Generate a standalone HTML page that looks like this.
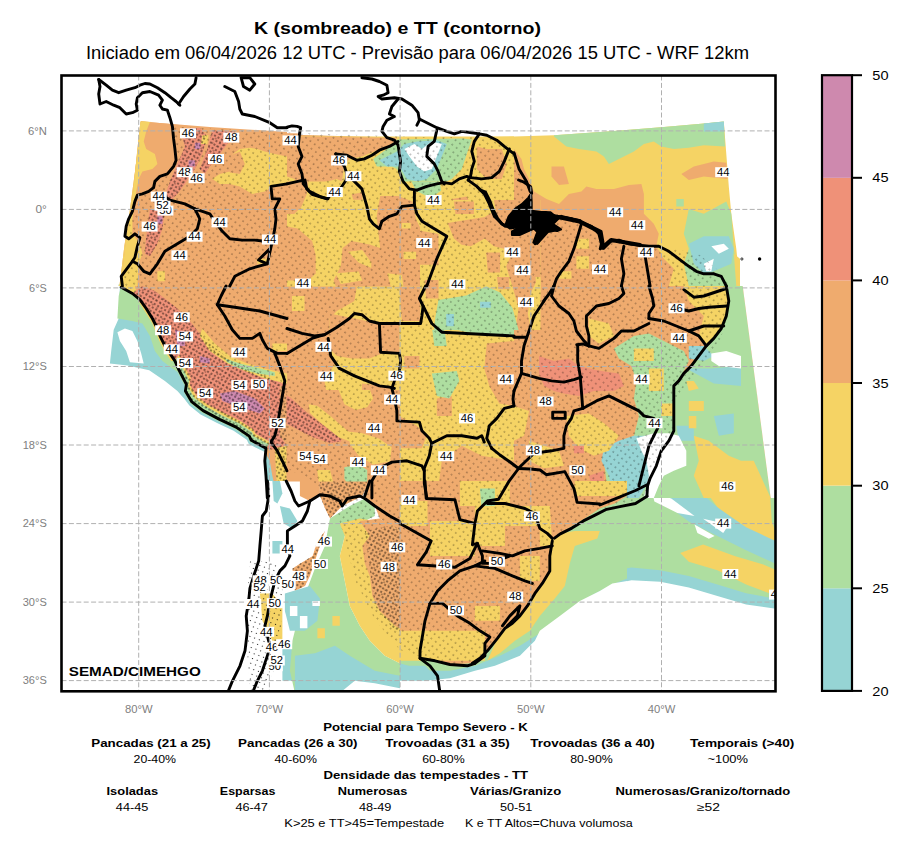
<!DOCTYPE html>
<html><head><meta charset="utf-8"><style>html,body{margin:0;padding:0;background:#fff;}svg{display:block;}</style></head>
<body><svg width="909" height="849" viewBox="0 0 909 849" font-family='"Liberation Sans", sans-serif'>
<rect width="909" height="849" fill="#fff"/>
<text x="397.5" y="34" text-anchor="middle" font-size="17.3" font-weight="bold" textLength="287" lengthAdjust="spacingAndGlyphs">K (sombreado) e TT (contorno)</text>
<text x="86" y="59" font-size="18" textLength="663" lengthAdjust="spacingAndGlyphs">Iniciado em 06/04/2026 12 UTC - Previsão para 06/04/2026 15 UTC - WRF 12km</text>
<svg x="61.5" y="75.5" width="714.0" height="615.8" viewBox="61.5 75.5 714.0 615.8" overflow="hidden">
<defs><clipPath id="cT1"><rect x="59.5" y="73.5" width="241" height="212"/></clipPath><clipPath id="cT2"><rect x="299.5" y="73.5" width="231" height="212"/></clipPath><clipPath id="cT3"><rect x="529.5" y="73.5" width="248" height="212"/></clipPath><clipPath id="cT4"><rect x="59.5" y="284.5" width="241" height="191"/></clipPath><clipPath id="cT5"><rect x="299.5" y="284.5" width="231" height="191"/></clipPath><clipPath id="cT6"><rect x="529.5" y="284.5" width="248" height="191"/></clipPath><clipPath id="cT7"><rect x="59.5" y="474.5" width="241" height="219"/></clipPath><clipPath id="cT8"><rect x="299.5" y="474.5" width="231" height="219"/></clipPath><clipPath id="cT9"><rect x="529.5" y="474.5" width="248" height="219"/></clipPath><pattern id="stip" width="4" height="4" patternUnits="userSpaceOnUse"><circle cx="2" cy="2" r="0.8" fill="#000"/></pattern><pattern id="stipl" width="5" height="5" patternUnits="userSpaceOnUse" patternTransform="rotate(20)"><circle cx="2.5" cy="2.5" r="0.6" fill="#000"/></pattern><pattern id="stipg" width="5.5" height="5.5" patternUnits="userSpaceOnUse" patternTransform="rotate(37)"><circle cx="2.75" cy="2.75" r="0.55" fill="#000"/></pattern><pattern id="stipd" width="4" height="4" patternUnits="userSpaceOnUse" patternTransform="rotate(30)"><circle cx="2" cy="2" r="0.75" fill="#000"/></pattern></defs>
<g clip-path="url(#cT1)"><path d="M141.0,121.2 170.2,124.1 197.4,127.0 231.8,129.8 271.9,132.7 320.0,134.1 320.0,317.1 115.8,317.1 118.7,291.6 121.6,268.7 124.4,245.8 128.1,222.9 131.6,197.1 135.0,171.4 137.9,148.4Z" fill="#efab6e"/><path d="M141.0,121.2 151.6,122.1 147.3,132.7 143.0,142.7 140.7,151.3 145.9,159.9 155.9,158.5 157.4,168.5 148.8,172.8 138.7,177.1 135.0,188.5 133.0,200.0 131.6,208.6 137.3,211.4 135.9,220.0 133.9,234.4 133.0,245.8 137.3,260.1 138.7,274.4 141.6,291.6 143.0,317.1 115.8,317.1 118.7,291.6 121.6,268.7 124.4,245.8 128.1,222.9 131.6,197.1 135.0,171.4 137.9,148.4Z" fill="#f5d364"/><path d="M118.7,295.9 137.3,294.5 140.2,317.1 115.8,317.1Z" fill="#aedea0"/><path d="M216.1,182.8 211.8,177.1 220.4,168.5 228.9,162.8 240.4,157.0 249.0,151.3 257.6,147.0 266.2,149.9 273.3,155.6 286.2,159.9 294.8,168.5 303.4,178.5 312.0,182.8 320.0,188.5 320.0,194.3 309.1,194.3 294.8,191.4 277.6,185.7 266.2,188.5 257.6,191.4 243.3,185.7 231.8,184.2 220.4,184.2Z" fill="#f5d364"/><path d="M277.6,211.4 286.2,208.6 300.5,202.9 320.0,200.0 320.0,317.1 291.9,317.1 294.8,297.3 306.3,291.6 312.0,274.4 306.3,257.3 294.8,245.8 289.1,231.5 283.3,220.0Z" fill="#f5d364"/><path d="M190.3,127.0 203.2,127.0 200.3,142.7 194.6,159.9 186.0,177.1 177.4,191.4 170.2,200.0 165.9,195.7 171.7,179.9 180.3,159.9 187.4,139.9Z" fill="#ef9178"/><path d="M216.1,129.8 237.5,131.3 231.8,142.7 220.4,157.0 211.8,168.5 206.0,168.5 208.9,154.2 213.2,139.9Z" fill="#ef9178"/><path d="M157.4,211.4 168.8,211.4 160.2,228.6 151.6,245.8 145.9,257.3 141.6,251.5 148.8,234.4Z" fill="#ef9178"/><path d="M143.0,274.4 154.5,280.2 168.8,291.6 180.3,303.1 186.0,317.1 154.5,317.1 145.9,303.1 140.2,285.9Z" fill="#ef9178"/></g>
<g clip-path="url(#cT2)"><path d="M289.0,134.7 374.9,137.6 460.8,137.6 549.0,135.6 549.0,317.1 289.0,317.1Z" fill="#f5d364"/><path d="M289.0,134.7 397.8,137.6 394.9,145.6 383.5,152.7 366.3,157.0 346.3,159.9 337.7,168.5 332.0,182.8 326.2,197.1 317.6,202.9 306.2,200.0 300.5,188.5 289.0,185.7Z" fill="#efab6e"/><path d="M289.0,234.4 306.2,240.1 317.6,251.5 323.4,274.4 334.8,291.6 346.3,317.1 289.0,317.1Z" fill="#efab6e"/><path d="M340.5,245.8 363.4,242.9 383.5,234.4 400.7,222.9 415.0,222.9 426.4,234.4 437.9,251.5 432.2,274.4 426.4,291.6 420.7,317.1 346.3,317.1 334.8,291.6 337.7,268.7Z" fill="#efab6e"/><path d="M349.1,251.5 369.2,248.7 374.9,260.1 366.3,271.6 352.0,268.7Z" fill="#f5d364"/><path d="M449.4,217.2 466.5,205.7 489.4,200.0 506.6,208.6 549.0,205.7 549.0,317.1 506.6,317.1 489.4,291.6 466.5,285.9 449.4,274.4 443.6,251.5Z" fill="#efab6e"/><path d="M455.1,242.9 478.0,237.2 495.2,245.8 498.0,263.0 489.4,274.4 466.5,274.4 455.1,263.0Z" fill="#f5d364"/><path d="M512.3,154.2 526.7,159.9 532.4,188.5 523.8,202.9 512.3,197.1 506.6,174.2Z" fill="#efab6e"/><path d="M483.7,157.0 500.9,159.9 500.9,171.4 486.6,171.4Z" fill="#efab6e"/><path d="M374.9,151.3 397.8,142.7 415.0,138.4 466.5,137.6 475.1,142.7 472.3,159.9 460.8,177.1 449.4,185.7 432.2,188.5 420.7,191.4 409.3,185.7 392.1,168.5 377.8,165.6Z" fill="#aedea0"/><path d="M380.6,154.2 400.7,148.4 400.7,162.8 386.4,168.5Z" fill="#96d4d4"/><path d="M406.4,142.7 443.6,139.9 437.9,159.9 432.2,174.2 415.0,179.9 403.5,168.5Z" fill="#96d4d4"/><path d="M406.4,148.4 417.9,142.7 423.6,151.3 432.2,145.6 440.8,142.7 437.9,157.0 430.7,171.4 420.7,171.4 412.1,162.8 406.4,157.0Z" fill="#ffffff"/><path d="M437.9,303.1 460.8,291.6 489.4,285.9 506.6,297.3 512.3,317.1 437.9,317.1Z" fill="#aedea0"/><path d="M480.9,300.2 492.3,300.2 492.3,308.8 480.9,308.8Z" fill="#96d4d4"/></g>
<g clip-path="url(#cT3)"><path d="M517.0,134.7 554.2,134.7 631.5,128.4 677.4,125.5 703.1,122.7 723.2,121.2 726.0,159.9 730.3,202.9 734.6,234.4 738.9,257.3 743.2,291.6 746.1,317.1 517.0,317.1Z" fill="#f5d364"/><path d="M554.2,134.7 631.5,128.4 677.4,125.5 703.1,123.3 723.2,121.2 724.6,144.2 700.3,145.6 677.4,149.0 660.2,142.7 643.0,145.6 631.5,151.3 614.4,152.7 608.6,164.2 602.9,157.0 585.7,152.7 568.5,145.6 554.2,135.6Z" fill="#aedea0"/><path d="M703.1,123.3 723.2,121.2 723.7,131.3 703.1,131.3Z" fill="#96d4d4"/><path d="M517.0,159.9 528.5,162.8 534.2,174.2 542.8,194.3 560.0,200.0 574.3,192.8 588.6,187.1 602.9,191.4 620.1,187.1 637.3,184.2 643.0,188.5 644.4,205.7 654.4,228.6 657.3,240.1 651.6,245.8 665.9,257.3 677.4,265.9 688.8,274.4 677.4,291.6 665.9,303.1 654.4,317.1 517.0,317.1Z" fill="#efab6e"/><path d="M551.4,165.6 565.7,165.6 570.0,184.2 560.0,182.8 552.8,174.2Z" fill="#efab6e"/><path d="M683.1,174.2 700.3,164.2 723.2,162.8 727.5,177.1 700.3,178.5 685.9,179.9Z" fill="#efab6e"/><path d="M578.6,240.1 588.6,240.1 588.6,248.7 578.6,248.7Z" fill="#f5d364"/><path d="M577.1,257.3 588.6,257.3 588.6,265.9 577.1,265.9Z" fill="#f5d364"/><path d="M677.4,200.0 688.8,194.3 703.1,205.7 728.9,202.9 730.3,222.9 734.6,234.4 737.5,245.8 734.6,274.4 740.3,291.6 746.1,317.1 734.6,317.1 728.9,297.3 717.4,280.2 706.0,274.4 688.8,271.6 677.4,257.3 683.1,245.8 677.4,234.4 688.8,222.9 685.9,211.4Z" fill="#aedea0"/><path d="M688.8,242.9 711.7,237.2 734.6,237.2 734.6,257.3 717.4,271.6 703.1,271.6 691.7,260.1 688.8,251.5Z" fill="#96d4d4"/><path d="M711.7,251.5 726.0,244.4 728.9,248.7 717.4,257.3 714.6,271.6 706.0,268.7 711.7,260.1Z" fill="#ffffff"/><path d="M734.6,260.1 741.8,260.1 746.1,317.1 738.9,317.1Z" fill="#f5d364"/></g>
<g clip-path="url(#cT4)"><path d="M120.1,262.0 320.0,262.0 320.0,505.1 271.9,505.1 269.0,448.1 260.4,442.4 243.3,430.9 220.4,418.1 200.3,405.2 187.4,390.9 183.1,376.5 174.5,356.5 165.9,342.2 157.4,327.9 145.9,313.5 134.4,299.2 121.6,287.8 120.1,262.0Z" fill="#efab6e"/><path d="M118.7,262.0 118.7,287.8 117.3,316.4 113.0,339.3 110.1,363.7 128.7,362.8 143.0,365.7 157.4,372.2 165.9,382.3 177.4,388.0 187.4,399.4 200.3,409.5 214.6,418.1 228.9,425.2 243.3,433.8 254.7,445.3 260.4,448.1 269.0,448.1 271.9,505.1 280.5,505.1 277.6,462.4 271.9,445.3 260.4,442.4 243.3,430.9 220.4,418.1 200.3,405.2 187.4,390.9 183.1,376.5 174.5,356.5 165.9,342.2 157.4,327.9 145.9,313.5 134.4,299.2 121.6,287.8 120.1,262.0Z" fill="#96d4d4"/><path d="M117.3,330.7 128.7,329.3 134.4,333.6 131.6,347.9 127.3,360.8 120.1,359.4 121.6,345.0 116.7,337.9Z" fill="#ffffff"/><path d="M118.7,287.8 117.3,316.4 134.4,319.3 145.9,327.9 154.5,342.2 160.2,356.5 168.8,367.9 177.4,376.5 186.0,385.1 194.6,399.4 208.9,408.0 226.1,416.6 243.3,426.6 260.4,441.0 260.4,442.4 243.3,430.9 220.4,418.1 200.3,405.2 187.4,390.9 183.1,376.5 174.5,356.5 165.9,342.2 157.4,327.9 145.9,313.5 134.4,299.2 121.6,287.8 120.1,262.0Z" fill="#aedea0"/><path d="M118.7,286.3 128.7,293.5 140.2,299.2 148.8,310.7 158.8,322.1 167.4,335.0 174.5,347.9 180.3,362.2 184.6,373.7 190.3,388.0 197.4,396.6 208.9,405.2 231.8,416.6 246.1,425.2 260.4,436.7 260.4,442.4 243.3,430.9 220.4,418.1 200.3,405.2 187.4,390.9 183.1,376.5 174.5,356.5 165.9,342.2 157.4,327.9 145.9,313.5 134.4,299.2 121.6,287.8 120.1,262.0Z" fill="#f5d364"/><path d="M143.0,286.3 160.2,299.2 174.5,313.5 186.0,325.0 200.3,339.3 208.9,347.9 220.4,359.4 237.5,365.1 260.4,370.8 277.6,379.4 289.1,388.0 303.4,402.3 320.0,413.8 320.0,505.1 309.1,505.1 300.5,485.3 289.1,468.2 277.6,459.6 271.9,445.3 260.4,442.4 243.3,430.9 220.4,418.1 200.3,405.2 187.4,390.9 183.1,376.5 174.5,356.5 165.9,342.2 157.4,327.9 145.9,313.5 134.4,299.2Z" fill="#ef9178"/><path d="M188.9,390.9 203.2,399.4 220.4,408.0 231.8,416.6 220.4,418.1 200.3,405.2Z" fill="#f5d364"/><path d="M203.2,330.7 220.4,342.2 243.3,350.8 266.2,356.5 266.2,360.8 243.3,357.9 220.4,350.8 204.6,339.3Z" fill="#f5d364"/><path d="M228.9,356.5 246.1,362.2 266.2,370.8 266.2,375.1 243.3,367.9 226.1,360.8Z" fill="#aedea0"/><path d="M171.7,325.0 180.3,327.9 183.1,345.0 174.5,345.0Z" fill="#ce89ae"/><path d="M220.4,390.9 243.3,388.0 266.2,396.6 266.2,410.9 243.3,410.9 226.1,402.3Z" fill="#ce89ae"/><path d="M289.1,433.8 320.0,439.5 320.0,485.3 300.5,479.6 289.1,462.4Z" fill="#efab6e"/><path d="M273.3,448.1 286.2,462.4 289.1,491.1 286.2,505.1 273.3,505.1Z" fill="#f5d364"/><path d="M283.3,468.2 297.7,468.2 303.4,485.3 303.4,505.1 286.2,505.1 283.3,488.2Z" fill="#ffffff"/><path d="M309.1,499.7 320.0,493.9 320.0,505.1 306.3,505.1Z" fill="#ffffff"/></g>
<g clip-path="url(#cT5)"><path d="M289.0,262.0 549.0,262.0 549.0,505.1 289.0,505.1Z" fill="#efab6e"/><path d="M340.5,262.0 423.6,262.0 423.6,293.5 409.3,313.5 389.2,320.7 372.0,319.3 360.6,307.8 346.3,296.4 332.0,293.5 337.7,279.2Z" fill="#f5d364"/><path d="M291.9,293.5 306.2,293.5 306.2,310.7 291.9,310.7Z" fill="#f5d364"/><path d="M426.4,262.0 489.4,262.0 483.7,279.2 512.3,284.9 529.5,276.3 549.0,273.5 549.0,302.1 532.4,313.5 526.7,336.4 523.8,376.5 518.1,396.6 506.6,413.8 495.2,425.2 483.7,433.8 460.8,436.7 437.9,439.5 423.6,428.1 409.3,416.6 400.7,405.2 397.8,382.3 403.5,359.4 400.7,336.4 383.5,325.0 397.8,323.6 420.7,323.6 423.6,305.0 429.3,279.2Z" fill="#f5d364"/><path d="M403.5,356.5 420.7,356.5 420.7,367.9 403.5,367.9Z" fill="#efab6e"/><path d="M409.3,385.1 426.4,388.0 426.4,405.2 412.1,405.2Z" fill="#efab6e"/><path d="M432.2,396.6 455.1,399.4 455.1,422.4 435.0,419.5Z" fill="#efab6e"/><path d="M486.6,353.6 518.1,353.6 518.1,382.3 489.4,382.3Z" fill="#efab6e"/><path d="M332.0,359.4 352.0,367.9 374.9,376.5 392.1,390.9 394.9,410.9 383.5,422.4 369.2,422.4 354.9,410.9 346.3,393.7 332.0,376.5Z" fill="#f5d364"/><path d="M357.7,388.0 380.6,390.9 383.5,408.0 363.4,408.0Z" fill="#efab6e"/><path d="M306.2,405.2 323.4,402.3 346.3,405.2 363.4,413.8 374.9,428.1 389.2,422.4 397.8,416.6 383.5,433.8 374.9,442.4 360.6,439.5 346.3,430.9 323.4,422.4Z" fill="#f5d364"/><path d="M346.3,439.5 374.9,445.3 403.5,445.3 426.4,445.3 423.6,462.4 409.3,459.6 397.8,462.4 374.9,468.2 366.3,505.1 340.5,505.1 343.4,462.4Z" fill="#f5d364"/><path d="M449.4,462.4 472.3,459.6 489.4,468.2 483.7,491.1 466.5,505.1 449.4,505.1 443.6,485.3Z" fill="#f5d364"/><path d="M523.8,399.4 549.0,410.9 549.0,433.8 529.5,439.5Z" fill="#f5d364"/><path d="M437.9,310.7 449.4,296.4 472.3,293.5 489.4,287.8 506.6,299.2 515.2,319.3 518.1,333.6 489.4,336.4 475.1,339.3 460.8,336.4 443.6,330.7 435.0,322.1Z" fill="#aedea0"/><path d="M479.4,302.1 490.9,302.1 490.9,309.2 479.4,309.2Z" fill="#96d4d4"/><path d="M443.6,317.8 453.6,317.8 453.6,327.9 443.6,327.9Z" fill="#96d4d4"/><path d="M432.2,325.0 443.6,330.7 443.6,345.0 435.0,347.9 432.2,336.4Z" fill="#aedea0"/><path d="M432.2,373.7 449.4,370.8 457.9,376.5 455.1,396.6 443.6,396.6 435.0,388.0 433.6,379.4Z" fill="#aedea0"/><path d="M343.4,468.2 363.4,465.3 366.3,485.3 352.0,491.1 344.8,485.3Z" fill="#aedea0"/><path d="M483.7,491.1 498.0,488.2 498.0,505.1 483.7,505.1Z" fill="#aedea0"/><path d="M289.0,390.9 306.2,405.2 323.4,422.4 337.7,439.5 346.3,456.7 343.4,479.6 332.0,499.7 317.6,505.1 289.0,505.1Z" fill="#ef9178"/><path d="M289.0,468.2 306.2,471.0 317.6,491.1 320.5,505.1 289.0,505.1Z" fill="#96d4d4"/><path d="M289.0,473.9 300.5,479.6 306.2,491.1 314.8,505.1 289.0,505.1Z" fill="#ffffff"/><path d="M538.1,353.6 549.0,353.6 549.0,393.7 538.1,393.7Z" fill="#ef9178"/></g>
<g clip-path="url(#cT6)"><path d="M517.0,262.0 777.0,262.0 777.0,505.1 517.0,505.1Z" fill="#efab6e"/><path d="M677.4,262.0 740.3,262.0 743.2,290.6 748.9,333.6 754.7,376.5 760.4,422.4 766.1,462.4 771.8,505.1 640.1,505.1 637.3,485.3 631.5,468.2 625.8,451.0 637.3,433.8 640.1,410.9 631.5,390.9 625.8,376.5 637.3,359.4 637.3,347.9 651.6,336.4 665.9,330.7 677.4,319.3 665.9,305.0 671.6,279.2Z" fill="#aedea0"/><path d="M740.3,262.0 777.0,262.0 777.0,505.1 771.8,505.1 766.1,462.4 760.4,422.4 754.7,376.5 748.9,333.6 743.2,290.6Z" fill="#ffffff"/><path d="M683.1,279.2 700.3,273.5 723.2,279.2 728.9,296.4 728.9,319.3 717.4,327.9 700.3,327.9 677.4,319.3 665.9,305.0 671.6,290.6Z" fill="#f5d364"/><path d="M694.5,305.0 711.7,305.0 711.7,319.3 694.5,319.3Z" fill="#efab6e"/><path d="M734.6,262.0 741.8,262.0 746.1,319.3 738.9,319.3Z" fill="#f5d364"/><path d="M700.3,339.3 717.4,336.4 723.2,347.9 711.7,350.8Z" fill="#96d4d4"/><path d="M717.4,370.8 751.8,370.8 754.7,382.3 723.2,382.3Z" fill="#96d4d4"/><path d="M711.7,410.9 734.6,410.9 734.6,433.8 714.6,433.8Z" fill="#96d4d4"/><path d="M714.6,353.6 734.6,353.6 747.5,362.2 747.5,370.8 723.2,367.9 714.6,362.2Z" fill="#ffffff"/><path d="M688.8,433.8 706.0,428.1 723.2,439.5 740.3,445.3 760.4,439.5 766.1,462.4 771.8,505.1 688.8,505.1 694.5,479.6 688.8,462.4Z" fill="#f5d364"/><path d="M737.5,399.4 754.7,396.6 760.4,416.6 743.2,422.4Z" fill="#f5d364"/><path d="M683.1,399.4 703.1,402.3 703.1,409.5 684.5,408.0Z" fill="#f5d364"/><path d="M688.8,416.6 697.4,416.6 697.4,428.1 688.8,428.1Z" fill="#f5d364"/><path d="M620.1,445.3 637.3,430.9 660.2,428.1 688.8,436.7 694.5,462.4 677.4,479.6 688.8,505.1 640.1,505.1 631.5,485.3 617.2,468.2Z" fill="#96d4d4"/><path d="M640.1,433.8 657.3,430.9 660.2,448.1 651.6,462.4 643.0,459.6 638.7,448.1Z" fill="#ffffff"/><path d="M660.2,430.9 683.1,433.8 685.9,462.4 677.4,473.9 663.0,468.2Z" fill="#ffffff"/><path d="M660.2,482.5 674.5,476.8 680.2,505.1 654.4,505.1Z" fill="#ffffff"/><path d="M537.0,356.5 574.3,356.5 582.9,367.9 625.8,376.5 622.9,390.9 602.9,393.7 582.9,388.0 562.8,388.0 542.8,388.0 539.9,376.5Z" fill="#ef9178"/><path d="M568.5,410.9 602.9,410.9 637.3,422.4 631.5,448.1 611.5,451.0 597.2,439.5 574.3,433.8 565.7,422.4Z" fill="#f5d364"/><path d="M517.0,262.0 562.8,262.0 557.1,279.2 545.6,287.8 534.2,284.9 517.0,290.6Z" fill="#f5d364"/><path d="M582.9,319.3 608.6,322.1 605.8,342.2 585.7,345.0Z" fill="#f5d364"/></g>
<g clip-path="url(#cT7)"><path d="M264.7,450.0 280.5,450.0 289.1,487.2 300.5,513.0 300.5,524.4 283.3,524.4 271.9,518.7 267.6,493.0Z" fill="#96d4d4"/><path d="M280.5,450.0 320.0,450.0 320.0,495.8 306.3,507.3 297.7,504.4 289.1,487.2 286.2,470.0Z" fill="#efab6e"/><path d="M281.9,450.0 297.7,450.0 294.8,467.2 286.2,467.2Z" fill="#f5d364"/><path d="M286.2,470.0 294.8,490.1 303.4,507.3 289.1,504.4 283.3,484.4Z" fill="#ffffff"/><path d="M271.9,541.6 286.2,541.6 286.2,553.1 271.9,553.1Z" fill="#96d4d4"/><path d="M291.9,558.8 320.0,553.1 320.0,584.6 300.5,584.6 291.9,573.1Z" fill="#efab6e"/><path d="M277.6,593.2 320.0,587.4 320.0,693.1 269.0,693.1 266.2,667.6 271.9,650.4 283.3,633.3 286.2,610.4Z" fill="#96d4d4"/><path d="M291.9,604.6 320.0,598.9 320.0,693.1 286.2,693.1 289.1,650.4 294.8,627.5Z" fill="#aedea0"/><path d="M289.1,610.4 300.5,607.5 306.3,624.7 294.8,627.5Z" fill="#ffffff"/><path d="M271.9,593.2 289.1,590.3 291.9,610.4 286.2,636.1 277.6,650.4 271.9,633.3Z" fill="#f5d364"/><path d="M259.0,593.2 269.0,593.2 270.5,627.5 260.4,627.5Z" fill="#f5d364"/></g>
<g clip-path="url(#cT8)"><path d="M289.0,450.0 549.0,450.0 549.0,693.1 289.0,693.1Z" fill="#aedea0"/><path d="M289.0,450.0 360.6,450.0 352.0,472.9 332.0,493.0 317.6,493.0 306.2,472.9 289.0,467.2Z" fill="#efab6e"/><path d="M289.0,467.2 311.9,467.2 332.0,495.8 332.0,524.4 317.6,544.5 311.9,570.3 306.2,587.4 289.0,593.2Z" fill="#96d4d4"/><path d="M289.0,472.9 306.2,478.6 326.2,501.5 323.4,524.4 314.8,535.9 306.2,558.8 300.5,576.0 289.0,581.7Z" fill="#ffffff"/><path d="M326.2,501.5 346.3,495.8 360.6,450.0 549.0,450.0 549.0,587.4 535.3,610.4 512.3,633.3 489.4,647.6 460.8,656.2 426.4,661.9 397.8,661.9 374.9,650.4 363.4,627.5 352.0,604.6 343.4,581.7 340.5,558.8 337.7,535.9 332.0,518.7Z" fill="#f5d364"/><path d="M372.0,461.5 409.3,461.5 412.1,515.9 389.2,515.9 374.9,493.0Z" fill="#efab6e"/><path d="M412.1,450.0 460.8,450.0 466.5,484.4 460.8,521.6 432.2,521.6 417.9,493.0Z" fill="#efab6e"/><path d="M500.9,458.6 549.0,458.6 549.0,507.3 506.6,507.3Z" fill="#efab6e"/><path d="M449.4,524.4 483.7,524.4 486.6,558.8 455.1,558.8Z" fill="#efab6e"/><path d="M475.1,487.2 489.4,490.1 489.4,507.3 475.1,507.3Z" fill="#aedea0"/><path d="M360.6,518.7 383.5,515.9 403.5,527.3 417.9,541.6 432.2,564.5 449.4,573.1 460.8,564.5 472.3,558.8 489.4,564.5 506.6,570.3 529.5,587.4 532.4,607.5 512.3,621.8 489.4,627.5 466.5,633.3 449.4,633.3 426.4,639.0 409.3,639.0 394.9,633.3 380.6,618.9 372.0,598.9 366.3,570.3 360.6,544.5Z" fill="#efab6e"/><path d="M460.8,610.4 506.6,610.4 506.6,639.0 489.4,650.4 466.5,650.4Z" fill="#f5d364"/><path d="M449.4,636.1 489.4,636.1 506.6,650.4 460.8,661.9Z" fill="#aedea0"/><path d="M289.0,656.2 346.3,667.6 403.5,673.3 437.9,667.6 460.8,661.9 489.4,656.2 518.1,639.0 549.0,616.1 549.0,693.1 289.0,693.1Z" fill="#96d4d4"/><path d="M443.6,693.1 460.8,679.1 489.4,667.6 518.1,650.4 549.0,627.5 549.0,693.1Z" fill="#ffffff"/><path d="M289.0,587.4 306.2,587.4 297.6,610.4 289.0,621.8Z" fill="#96d4d4"/></g>
<g clip-path="url(#cT9)"><path d="M517.0,450.0 777.0,450.0 777.0,693.1 517.0,693.1Z" fill="#aedea0"/><path d="M517.0,633.3 531.3,621.8 551.4,610.4 574.3,593.2 600.0,573.1 631.5,567.4 660.2,570.3 688.8,576.0 717.4,584.6 746.1,593.2 777.0,598.9 777.0,693.1 517.0,693.1Z" fill="#96d4d4"/><path d="M517.0,650.4 534.2,636.1 545.6,627.5 568.5,613.2 591.4,598.9 611.5,584.6 631.5,580.3 660.2,581.7 688.8,587.4 717.4,596.0 746.1,604.6 777.0,608.9 777.0,693.1 517.0,693.1Z" fill="#ffffff"/><path d="M688.8,450.0 763.3,450.0 769.0,478.6 771.8,521.6 777.0,535.9 777.0,544.5 763.3,535.9 734.6,524.4 717.4,507.3 703.1,487.2 694.5,467.2Z" fill="#f5d364"/><path d="M680.2,553.1 703.1,544.5 734.6,555.9 763.3,564.5 777.0,570.3 777.0,596.0 746.1,584.6 717.4,570.3 688.8,561.7Z" fill="#f5d364"/><path d="M660.2,467.2 677.4,472.9 694.5,487.2 717.4,507.3 746.1,527.3 777.0,541.6 777.0,564.5 746.1,550.2 717.4,535.9 688.8,521.6 665.9,504.4 654.4,487.2Z" fill="#96d4d4"/><path d="M651.6,490.1 671.6,498.7 694.5,515.9 677.4,513.0 654.4,501.5Z" fill="#ffffff"/><path d="M694.5,524.4 714.6,535.9 708.9,538.8 697.4,533.0Z" fill="#ffffff"/><path d="M703.1,518.7 728.9,524.4 723.2,533.0Z" fill="#ffffff"/><path d="M640.1,450.0 688.8,450.0 688.8,461.5 677.4,472.9 665.9,467.2 651.6,484.4 643.0,472.9Z" fill="#ffffff"/><path d="M769.0,450.0 777.0,450.0 777.0,487.2 771.8,487.2Z" fill="#ffffff"/><path d="M545.6,533.0 574.3,527.3 600.0,533.0 582.9,541.6 568.5,553.1 560.0,570.3 545.6,593.2 534.2,616.1 517.0,627.5 517.0,610.4 534.2,587.4 545.6,558.8Z" fill="#f5d364"/><path d="M517.0,450.0 645.9,450.0 640.1,478.6 631.5,493.0 617.2,507.3 600.0,513.0 574.3,521.6 554.2,533.0 545.6,550.2 539.9,578.9 528.5,598.9 517.0,616.1Z" fill="#efab6e"/><path d="M517.0,504.4 534.2,507.3 539.9,524.4 517.0,530.2Z" fill="#f5d364"/><path d="M517.0,558.8 545.6,553.1 545.6,587.4 517.0,581.7Z" fill="#f5d364"/><path d="M634.4,461.5 651.6,461.5 651.6,481.5 634.4,481.5Z" fill="#96d4d4"/><path d="M591.4,472.9 608.6,472.9 608.6,484.4 591.4,484.4Z" fill="#ef9178"/></g>
<clipPath id="fz0"><rect x="59.5" y="73.5" width="228" height="213"/></clipPath>
<g clip-path="url(#fz0)"><path d="M140.4,121.4 172.4,123.9 209.8,126.9 247.3,129.4 287.0,131.9 287.0,286.0 121.2,286.0 124.9,248.8 128.7,223.8 132.4,198.9 134.9,173.9 137.4,148.9Z" fill="#efab6e"/><path d="M140.4,121.4 149.9,121.9 146.2,131.4 143.7,141.4 146.2,148.9 154.9,153.9 157.4,163.9 152.4,168.9 142.4,171.4 138.7,178.9 136.2,191.4 134.9,203.9 132.4,218.8 132.4,233.8 139.9,243.8 142.4,253.8 138.7,263.8 137.4,286.0 121.2,286.0 124.9,248.8 128.7,223.8 132.4,198.9 134.9,173.9 137.4,148.9Z" fill="#f5d364"/><path d="M212.3,178.9 219.8,173.9 229.8,171.4 234.8,163.9 229.8,156.4 239.8,148.9 249.8,147.7 257.3,148.9 264.8,151.4 274.8,153.9 287.0,156.4 287.0,183.9 272.3,186.4 264.8,191.4 252.3,193.9 239.8,186.4 229.8,183.9 219.8,183.9Z" fill="#f5d364"/><path d="M227.3,156.4 239.8,151.4 244.8,163.9 239.8,173.9 229.8,172.6Z" fill="#efab6e"/><path d="M157.4,271.3 164.9,271.3 164.9,281.3 157.4,281.3Z" fill="#f5d364"/><path d="M257.3,258.8 267.3,258.8 267.3,263.8 257.3,263.8Z" fill="#f5d364"/><path d="M179.9,128.9 199.8,127.7 207.3,136.4 202.3,153.9 194.9,168.9 184.9,183.9 177.4,193.9 169.9,201.4 164.9,196.4 169.9,181.4 177.4,163.9 184.9,146.4Z" fill="#ef9178"/><path d="M212.3,130.2 234.8,131.4 227.3,143.9 219.8,153.9 209.8,166.4 204.8,173.9 199.8,168.9 207.3,148.9Z" fill="#ef9178"/><path d="M149.9,208.9 164.9,211.3 162.4,228.8 157.4,243.8 149.9,256.3 144.9,253.8 146.2,236.3Z" fill="#ef9178"/><path d="M194.9,142.7 200.3,142.7 200.3,148.9 194.9,148.9Z" fill="#ce89ae"/><path d="M188.6,160.2 194.9,160.2 194.9,166.4 188.6,166.4Z" fill="#ce89ae"/><path d="M157.4,216.3 162.4,216.3 162.4,223.8 157.4,223.8Z" fill="#ce89ae"/><path d="M202.3,135.2 208.6,135.2 207.3,143.9 201.1,143.9Z" fill="#f5d364"/><path d="M179.9,128.9 199.8,127.7 207.3,136.4 202.3,153.9 194.9,168.9 184.9,183.9 177.4,193.9 169.9,201.4 164.9,196.4 169.9,181.4 177.4,163.9 184.9,146.4Z" fill="url(#stipd)"/><path d="M212.3,130.2 234.8,131.4 227.3,143.9 219.8,153.9 209.8,166.4 204.8,173.9 199.8,168.9 207.3,148.9Z" fill="url(#stipd)"/><path d="M149.9,208.9 164.9,211.3 162.4,228.8 157.4,243.8 149.9,256.3 144.9,253.8 146.2,236.3Z" fill="url(#stipd)"/></g>
<clipPath id="fz1"><rect x="286.5" y="73.5" width="228" height="213"/></clipPath>
<g clip-path="url(#fz1)"><path d="M287.0,136.4 514.0,136.4 514.0,286.0 287.0,286.0Z" fill="#f5d364"/><path d="M287.0,136.4 396.9,137.7 394.4,146.4 374.4,151.4 361.9,156.4 349.4,158.9 344.4,163.9 341.9,181.4 336.9,191.4 327.0,198.9 317.0,201.4 302.0,191.4 294.5,178.9 287.0,176.4Z" fill="#efab6e"/><path d="M317.0,183.9 336.9,178.9 346.9,183.9 344.4,198.9 324.5,201.4Z" fill="#f5d364"/><path d="M287.0,213.8 302.0,218.8 317.0,236.3 319.5,263.8 314.5,286.0 287.0,286.0Z" fill="#efab6e"/><path d="M341.9,246.3 356.9,238.8 374.4,228.8 386.9,216.3 396.9,203.9 411.9,203.9 414.4,223.8 421.9,236.3 416.9,253.8 426.8,273.8 426.8,286.0 332.0,286.0 336.9,263.8Z" fill="#efab6e"/><path d="M344.4,248.8 369.4,246.3 366.9,263.8 346.9,261.3Z" fill="#f5d364"/><path d="M404.4,223.8 411.9,223.8 411.9,233.8 404.4,233.8Z" fill="#f5d364"/><path d="M446.8,203.9 461.8,198.9 476.8,201.4 491.8,208.9 514.0,213.8 514.0,233.8 491.8,233.8 476.8,223.8 461.8,228.8 451.8,223.8Z" fill="#efab6e"/><path d="M461.8,248.8 481.8,243.8 491.8,253.8 481.8,268.8 466.8,263.8Z" fill="#efab6e"/><path d="M501.8,248.8 514.0,246.3 514.0,286.0 496.8,286.0 494.3,268.8Z" fill="#efab6e"/><path d="M436.8,263.8 451.8,258.8 456.8,273.8 446.8,286.0 434.3,286.0Z" fill="#efab6e"/><path d="M476.8,146.4 486.8,148.9 501.8,148.9 506.8,163.9 501.8,178.9 486.8,178.9 476.8,168.9Z" fill="#efab6e"/><path d="M451.8,198.9 466.8,196.4 471.8,206.4 456.8,208.9Z" fill="#efab6e"/><path d="M373.2,158.9 386.9,148.9 396.9,139.4 461.8,138.4 471.8,139.4 466.8,153.9 461.8,168.9 451.8,178.9 441.8,183.9 426.8,191.4 416.9,188.9 404.4,183.9 396.9,168.9 391.9,166.4 376.9,166.4Z" fill="#aedea0"/><path d="M379.4,160.2 396.9,151.4 404.4,143.9 416.9,141.4 436.8,140.2 446.8,143.9 441.8,156.4 436.8,168.9 426.8,178.9 416.9,181.4 406.9,178.9 399.4,166.4 386.9,166.4Z" fill="#96d4d4"/><path d="M404.4,148.9 414.4,143.9 421.9,148.9 431.8,141.4 441.8,143.9 436.8,156.4 431.8,168.9 424.3,171.4 416.9,166.4 409.4,156.4Z" fill="#ffffff"/></g>
<clipPath id="fz2"><rect x="513.5" y="73.5" width="264" height="213"/></clipPath>
<g clip-path="url(#fz2)"><path d="M514.0,74.0 778.7,74.0 778.7,286.0 514.0,286.0Z" fill="#ffffff"/><path d="M514.0,136.4 554.0,135.2 613.9,130.9 663.8,126.9 703.8,123.4 723.8,121.4 726.3,153.9 728.8,186.4 731.3,213.8 736.3,248.8 740.0,286.0 514.0,286.0Z" fill="#f5d364"/><path d="M554.0,135.2 613.9,130.9 663.8,126.9 703.8,123.4 723.8,121.4 725.0,146.4 703.8,145.2 688.8,147.7 673.8,148.9 661.3,146.4 653.8,141.4 643.9,143.9 633.9,151.4 623.9,156.4 608.9,163.9 603.9,156.4 596.4,151.4 578.9,148.9 566.4,146.4 554.0,136.4Z" fill="#aedea0"/><path d="M703.8,123.4 723.8,121.4 724.3,131.4 703.8,131.4Z" fill="#96d4d4"/><path d="M514.0,148.9 521.5,158.9 524.0,168.9 529.0,178.9 534.0,191.4 546.5,198.9 559.0,203.9 568.9,193.9 581.4,191.4 586.4,186.4 596.4,188.9 613.9,188.9 628.9,185.1 641.4,183.9 643.9,193.9 643.9,213.8 653.8,223.8 658.8,233.8 656.3,246.3 663.8,258.8 673.8,268.8 668.8,286.0 514.0,286.0Z" fill="#efab6e"/><path d="M576.4,238.8 588.9,238.8 588.9,248.8 576.4,248.8Z" fill="#f5d364"/><path d="M576.4,256.3 588.9,256.3 588.9,268.8 576.4,268.8Z" fill="#f5d364"/><path d="M559.0,271.3 571.4,271.3 571.4,278.8 559.0,278.8Z" fill="#f5d364"/><path d="M551.5,166.4 563.9,166.4 568.9,183.9 559.0,185.1 551.5,176.4Z" fill="#efab6e"/><path d="M681.3,173.9 693.8,166.4 713.8,161.4 726.3,162.7 727.5,178.9 703.8,176.4 688.8,180.1Z" fill="#efab6e"/><path d="M688.8,208.9 703.8,213.8 726.3,201.4 731.3,213.8 733.8,248.8 740.0,286.0 688.8,286.0 683.8,263.8 688.8,248.8 683.8,233.8Z" fill="#aedea0"/><path d="M688.8,243.8 703.8,236.3 728.8,236.3 733.8,248.8 731.3,263.8 713.8,271.3 703.8,273.8 693.8,263.8Z" fill="#96d4d4"/><path d="M711.3,246.3 723.8,243.8 728.8,248.8 718.8,253.8Z" fill="#ffffff"/><path d="M703.8,263.8 713.8,258.8 711.3,271.3 706.3,271.3Z" fill="#ffffff"/><path d="M733.8,253.8 740.0,258.8 740.0,286.0 736.3,286.0Z" fill="#f5d364"/><path d="M676.3,198.9 683.8,198.9 683.8,206.4 676.3,206.4Z" fill="#aedea0"/></g>
<clipPath id="fz3"><rect x="59.5" y="285.5" width="228" height="213"/></clipPath>
<g clip-path="url(#fz3)"><path d="M60.0,286.0 287.0,286.0 287.0,498.0 60.0,498.0Z" fill="#ffffff"/><path d="M121.2,286.0 287.0,286.0 287.0,498.0 267.3,498.0 266.0,475.8 264.8,460.8 266.0,448.3 251.3,440.3 249.3,436.1 236.1,427.1 219.6,419.4 203.1,410.6 191.9,401.9 185.4,390.9 186.4,384.4 178.9,369.9 174.9,360.9 169.9,353.4 164.9,345.9 159.9,335.9 157.4,328.5 152.4,318.5 146.2,308.5 139.9,299.7 132.4,293.5 121.2,287.2Z" fill="#efab6e"/><path d="M119.9,286.0 118.7,318.5 113.7,329.7 111.2,350.9 109.9,363.4 127.4,365.4 149.2,370.2 164.9,381.1 177.4,390.9 184.1,398.6 189.4,405.6 200.6,414.4 217.1,423.1 233.6,430.8 246.8,439.8 248.8,444.1 264.8,452.1 269.8,460.8 272.3,475.8 277.3,498.0 267.3,498.0 266.0,475.8 264.8,460.8 266.0,448.3 251.3,440.3 249.3,436.1 236.1,427.1 219.6,419.4 203.1,410.6 191.9,401.9 185.4,390.9 186.4,384.4 178.9,369.9 174.9,360.9 169.9,353.4 164.9,345.9 159.9,335.9 157.4,328.5 152.4,318.5 146.2,308.5 139.9,299.7 132.4,293.5 121.2,287.2Z" fill="#96d4d4"/><path d="M117.4,332.2 124.9,328.5 132.4,331.0 137.4,340.9 141.2,353.4 143.7,363.4 129.9,362.2 126.2,350.9 119.9,340.9Z" fill="#ffffff"/><path d="M119.9,291.0 118.7,296.0 117.4,318.5 132.4,321.0 142.4,323.5 149.9,335.9 154.9,350.9 162.4,360.9 172.4,368.4 177.4,371.7 184.9,385.9 184.1,392.6 190.6,403.6 201.8,412.4 218.3,421.1 234.8,428.8 248.0,437.8 250.0,442.1 266.0,448.3 266.0,448.3 251.3,440.3 249.3,436.1 236.1,427.1 219.6,419.4 203.1,410.6 191.9,401.9 185.4,390.9 186.4,384.4 178.9,369.9 174.9,360.9 169.9,353.4 164.9,345.9 159.9,335.9 157.4,328.5 152.4,318.5 146.2,308.5 139.9,299.7 132.4,293.5 121.2,287.2Z" fill="#aedea0"/><path d="M119.9,286.0 134.9,286.0 137.4,296.0 139.9,303.5 146.2,313.5 152.4,323.5 156.1,333.4 161.1,344.7 166.1,353.4 171.1,360.9 174.9,360.9 169.9,353.4 164.9,345.9 159.9,335.9 157.4,328.5 152.4,318.5 146.2,308.5 139.9,299.7 132.4,293.5 121.2,287.2Z" fill="#f5d364"/><path d="M142.4,286.0 154.9,291.0 164.9,298.5 177.4,308.5 189.9,321.0 199.8,333.4 209.8,343.4 222.3,353.4 234.8,360.9 249.8,368.4 264.8,375.9 277.3,380.9 287.0,385.9 287.0,445.8 272.3,449.6 266.0,448.3 251.3,440.3 249.3,436.1 236.1,427.1 219.6,419.4 203.1,410.6 191.9,401.9 185.4,390.9 186.4,384.4 178.9,369.9 174.9,360.9 169.9,353.4 164.9,345.9 159.9,335.9 157.4,328.5 152.4,318.5 146.2,308.5 139.9,299.7 132.4,293.5Z" fill="#ef9178"/><path d="M174.9,360.9 178.9,369.9 186.4,384.4 185.4,390.9 191.9,401.9 203.1,410.6 219.6,419.4 236.1,427.1 249.3,436.1 251.3,440.3 266.0,448.3 270.3,442.1 255.5,434.1 253.5,429.8 240.3,420.9 223.8,413.1 207.3,404.4 196.1,395.6 189.6,384.6 190.6,378.1 183.1,363.7 179.1,354.7Z" fill="#f5d364"/><path d="M174.9,360.9 178.9,369.9 186.4,384.4 185.4,390.9 191.9,401.9 203.1,410.6 219.6,419.4 236.1,427.1 249.3,436.1 251.3,440.3 266.0,448.3 268.8,444.3 254.0,436.3 252.0,432.1 238.8,423.1 222.3,415.4 205.8,406.6 194.6,397.9 188.1,386.9 189.1,380.4 181.6,365.9 177.6,356.9Z" fill="#aedea0"/><path d="M202.3,328.5 214.8,343.4 229.8,355.9 247.3,363.4 264.8,368.4 287.0,373.4 287.0,383.4 264.8,378.4 244.8,370.9 227.3,363.4 209.8,350.9 199.8,335.9Z" fill="#f5d364"/><path d="M224.8,358.4 239.8,363.4 259.8,368.4 274.8,372.2 274.8,375.9 257.3,373.4 239.8,368.4 227.3,362.2Z" fill="#aedea0"/><path d="M272.3,343.4 287.0,343.4 287.0,350.9 272.3,350.9Z" fill="#f5d364"/><path d="M174.9,329.7 184.9,332.2 184.9,345.9 177.4,345.9Z" fill="#ce89ae"/><path d="M219.8,393.4 234.8,390.9 254.8,398.4 264.8,408.4 259.8,413.4 244.8,408.4 229.8,403.4 222.3,400.9Z" fill="#ce89ae"/><path d="M199.8,355.9 209.8,358.4 209.8,363.4 199.8,362.2Z" fill="#ce89ae"/><path d="M279.8,385.9 287.0,385.9 287.0,445.8 279.8,435.8Z" fill="#efab6e"/><path d="M274.8,448.3 287.0,445.8 287.0,498.0 277.3,498.0Z" fill="#f5d364"/><path d="M142.4,286.0 154.9,291.0 164.9,298.5 177.4,308.5 189.9,321.0 199.8,333.4 209.8,343.4 222.3,353.4 234.8,360.9 249.8,368.4 264.8,375.9 277.3,380.9 287.0,385.9 287.0,445.8 272.3,449.6 266.0,448.3 251.3,440.3 249.3,436.1 236.1,427.1 219.6,419.4 203.1,410.6 191.9,401.9 185.4,390.9 186.4,384.4 178.9,369.9 174.9,360.9 169.9,353.4 164.9,345.9 159.9,335.9 157.4,328.5 152.4,318.5 146.2,308.5 139.9,299.7 132.4,293.5Z" fill="url(#stipd)"/><path d="M274.8,448.3 287.0,445.8 287.0,498.0 277.3,498.0Z" fill="url(#stipd)"/></g>
<clipPath id="fz4"><rect x="286.5" y="285.5" width="228" height="213"/></clipPath>
<g clip-path="url(#fz4)"><path d="M287.0,286.0 514.0,286.0 514.0,498.0 287.0,498.0Z" fill="#f5d364"/><path d="M287.0,286.0 356.9,286.0 354.4,301.0 336.9,311.0 329.5,318.5 329.5,355.9 336.9,360.9 332.0,368.4 324.5,380.9 327.0,395.9 319.5,405.9 302.0,405.9 287.0,403.4Z" fill="#efab6e"/><path d="M292.0,296.0 304.5,296.0 304.5,311.0 292.0,311.0Z" fill="#f5d364"/><path d="M329.5,313.5 379.4,323.5 399.4,323.5 399.4,353.4 381.9,353.4 369.4,358.4 351.9,358.4 336.9,355.9 329.5,348.4Z" fill="#efab6e"/><path d="M399.4,286.0 424.3,286.0 421.9,321.0 401.9,321.0Z" fill="#efab6e"/><path d="M361.9,383.4 386.9,385.9 396.9,395.9 399.4,415.9 416.9,425.8 426.8,435.8 421.9,448.3 401.9,448.3 381.9,440.8 366.9,430.8 356.9,415.9 361.9,400.9Z" fill="#efab6e"/><path d="M486.8,343.4 514.0,340.9 514.0,405.9 499.3,403.4 489.3,385.9 484.3,368.4Z" fill="#efab6e"/><path d="M404.4,355.9 419.4,355.9 419.4,368.4 404.4,368.4Z" fill="#efab6e"/><path d="M436.8,398.4 451.8,395.9 451.8,415.9 436.8,415.9Z" fill="#efab6e"/><path d="M441.8,460.8 461.8,445.8 481.8,455.8 514.0,460.8 514.0,498.0 436.8,498.0Z" fill="#efab6e"/><path d="M336.9,440.8 361.9,435.8 371.9,450.8 361.9,465.8 336.9,460.8Z" fill="#efab6e"/><path d="M436.8,301.0 461.8,293.5 486.8,288.5 506.8,296.0 514.0,311.0 514.0,335.9 486.8,335.9 461.8,331.0 444.3,326.0 436.8,316.0Z" fill="#aedea0"/><path d="M446.8,316.0 456.8,316.0 456.8,326.0 446.8,326.0Z" fill="#96d4d4"/><path d="M479.3,301.0 491.8,301.0 491.8,308.5 479.3,308.5Z" fill="#96d4d4"/><path d="M431.8,326.0 444.3,328.5 446.8,345.9 434.3,345.9Z" fill="#aedea0"/><path d="M431.8,373.4 456.8,370.9 459.3,380.9 449.3,398.4 436.8,395.9Z" fill="#aedea0"/><path d="M344.4,465.8 361.9,465.8 361.9,485.8 346.9,485.8Z" fill="#aedea0"/><path d="M287.0,400.9 302.0,410.9 317.0,425.8 324.5,440.8 312.0,448.3 287.0,445.8Z" fill="#ef9178"/><path d="M287.0,465.8 302.0,468.3 312.0,485.8 314.5,498.0 287.0,498.0Z" fill="#96d4d4"/><path d="M287.0,473.3 297.0,478.3 302.0,488.3 307.0,498.0 287.0,498.0Z" fill="#ffffff"/><path d="M287.0,400.9 302.0,410.9 317.0,425.8 324.5,440.8 312.0,448.3 287.0,445.8Z" fill="url(#stipd)"/></g>
<clipPath id="fz5"><rect x="513.5" y="285.5" width="264" height="213"/></clipPath>
<g clip-path="url(#fz5)"><path d="M514.0,286.0 778.7,286.0 778.7,498.0 514.0,498.0Z" fill="#efab6e"/><path d="M742.7,286.0 770.7,498.0 631.4,498.0 638.9,485.8 648.9,478.3 656.3,465.8 661.3,450.8 668.8,440.8 673.8,430.8 673.8,415.9 673.8,398.4 673.8,385.9 678.8,380.9 683.8,373.4 691.3,365.9 698.8,355.9 706.3,345.9 713.8,338.4 721.3,328.5 726.3,316.0 728.8,301.0 726.3,286.0Z" fill="#aedea0"/><path d="M742.7,286.0 778.7,286.0 778.7,498.0 770.7,498.0Z" fill="#ffffff"/><path d="M613.9,348.4 633.9,335.9 648.9,333.4 663.8,340.9 683.8,350.9 688.8,360.9 678.8,380.9 673.8,398.4 673.8,430.8 663.8,445.8 653.8,460.8 643.9,475.8 633.9,485.8 623.9,498.0 608.9,498.0 606.4,480.8 603.9,460.8 613.9,445.8 633.9,435.8 638.9,415.9 633.9,398.4 636.4,380.9 631.4,365.9 618.9,358.4Z" fill="#aedea0"/><path d="M648.9,368.4 663.8,368.4 663.8,390.9 648.9,390.9Z" fill="#f5d364"/><path d="M661.3,403.4 673.8,403.4 673.8,415.9 661.3,415.9Z" fill="#f5d364"/><path d="M633.9,348.4 653.8,348.4 653.8,360.9 633.9,360.9Z" fill="#f5d364"/><path d="M603.9,448.3 618.9,440.8 633.9,435.8 653.8,435.8 673.8,435.8 668.8,445.8 658.8,460.8 648.9,480.8 638.9,498.0 613.9,498.0 608.9,475.8 601.4,460.8Z" fill="#96d4d4"/><path d="M688.8,345.9 703.8,345.9 713.8,355.9 703.8,360.9 688.8,358.4Z" fill="#96d4d4"/><path d="M686.3,368.4 711.3,368.4 741.0,365.9 741.0,385.9 713.8,383.4Z" fill="#96d4d4"/><path d="M713.8,415.9 733.8,413.4 733.8,433.3 718.8,435.8Z" fill="#96d4d4"/><path d="M676.3,425.8 693.8,425.8 693.8,440.8 678.8,440.8Z" fill="#96d4d4"/><path d="M636.4,438.3 653.8,433.3 668.8,433.3 678.8,435.8 686.3,450.8 686.3,465.8 673.8,470.8 663.8,475.8 658.8,485.8 653.8,498.0 643.9,498.0 648.9,475.8 646.4,460.8 641.4,450.8Z" fill="#ffffff"/><path d="M711.3,353.4 726.3,350.9 741.0,355.9 741.0,368.4 718.8,365.9 711.3,360.9Z" fill="#ffffff"/><path d="M686.3,380.9 693.8,380.9 698.8,388.4 688.8,390.9Z" fill="#f5d364"/><path d="M688.8,400.9 703.8,400.9 703.8,410.9 688.8,410.9Z" fill="#f5d364"/><path d="M688.8,415.9 696.3,415.9 696.3,428.3 688.8,428.3Z" fill="#f5d364"/><path d="M693.8,435.8 708.8,440.8 728.8,455.8 741.0,460.8 753.7,460.8 770.7,498.0 703.8,498.0 693.8,475.8 698.8,460.8Z" fill="#f5d364"/><path d="M683.8,286.0 726.3,286.0 728.8,301.0 726.3,316.0 721.3,328.5 713.8,338.4 706.3,345.9 698.8,335.9 703.8,316.0 688.8,301.0Z" fill="#f5d364"/><path d="M539.0,355.9 554.0,360.9 568.9,358.4 578.9,365.9 588.9,368.4 601.4,370.9 618.9,373.4 623.9,385.9 613.9,390.9 593.9,390.9 578.9,395.9 563.9,393.4 554.0,390.9 544.0,385.9 539.0,373.4Z" fill="#ef9178"/><path d="M514.0,286.0 539.0,286.0 534.0,301.0 524.0,311.0 514.0,313.5Z" fill="#f5d364"/><path d="M588.9,318.5 608.9,323.5 613.9,335.9 598.9,343.4 588.9,335.9Z" fill="#f5d364"/><path d="M566.4,415.9 588.9,413.4 603.9,423.3 618.9,435.8 608.9,450.8 593.9,455.8 578.9,448.3 568.9,435.8Z" fill="#f5d364"/><path d="M514.0,405.9 529.0,410.9 524.0,435.8 514.0,440.8Z" fill="#f5d364"/><path d="M529.0,440.8 559.0,450.8 563.9,465.8 544.0,468.3 529.0,460.8Z" fill="#f5d364"/><path d="M573.9,445.8 583.9,445.8 583.9,453.3 573.9,453.3Z" fill="#ef9178"/><path d="M588.9,475.8 603.9,470.8 603.9,483.3 591.4,483.3Z" fill="#ef9178"/></g>
<clipPath id="fz6"><rect x="199.5" y="480.5" width="201" height="213"/></clipPath>
<g clip-path="url(#fz6)"><path d="M200.0,481.0 427.0,481.0 427.0,693.0 200.0,693.0Z" fill="#ffffff"/><path d="M272.4,481.0 279.9,481.0 282.4,493.5 277.4,503.5 273.7,501.0Z" fill="#96d4d4"/><path d="M279.9,506.0 289.9,508.5 297.4,521.0 292.4,528.4 283.7,523.5Z" fill="#96d4d4"/><path d="M272.4,540.9 282.4,540.9 282.4,553.4 272.4,553.4Z" fill="#96d4d4"/><path d="M282.4,643.3 292.4,643.3 292.4,680.8 282.4,680.8Z" fill="#96d4d4"/><path d="M259.9,593.4 272.4,593.4 282.4,605.9 282.4,640.8 272.4,640.8 262.4,620.8Z" fill="#f5d364"/><path d="M319.9,481.0 369.8,481.0 362.3,496.0 342.3,506.0 329.9,518.5 324.9,530.9 319.9,545.9 314.9,560.9 309.9,575.9 304.9,585.9 294.9,590.9 292.4,568.4 299.9,563.4 312.4,555.9 317.4,540.9 324.9,530.9 329.9,518.5 324.9,508.5 319.9,496.0Z" fill="#efab6e"/><path d="M299.9,481.0 319.9,481.0 319.9,496.0 309.9,501.0 299.9,496.0Z" fill="#efab6e"/><path d="M329.9,518.5 349.8,506.0 364.8,498.5 374.8,506.0 374.8,516.0 359.8,523.5 344.8,535.9 339.8,555.9 344.8,580.9 349.8,605.9 359.8,625.8 369.8,640.8 384.8,655.8 399.8,663.3 427.0,665.8 427.0,693.0 294.9,693.0 289.9,670.8 292.4,640.8 297.4,620.8 289.9,600.9 307.4,588.4 314.9,568.4 324.9,545.9Z" fill="#aedea0"/><path d="M284.9,593.4 309.9,585.9 319.9,598.4 317.4,620.8 304.9,630.8 289.9,630.8 284.9,610.9Z" fill="#96d4d4"/><path d="M339.8,523.5 359.8,518.5 374.8,521.0 399.8,521.0 427.0,521.0 427.0,665.8 399.8,663.3 384.8,655.8 369.8,640.8 359.8,625.8 349.8,605.9 344.8,580.9 339.8,555.9 344.8,535.9Z" fill="#f5d364"/><path d="M359.8,521.0 379.8,518.5 399.8,530.9 427.0,526.0 427.0,640.8 412.3,635.8 394.8,625.8 379.8,610.9 372.3,595.9 369.8,575.9 364.8,563.4 362.3,545.9 369.8,535.9Z" fill="#efab6e"/><path d="M369.8,481.0 427.0,481.0 427.0,526.0 399.8,530.9 379.8,518.5 374.8,506.0 364.8,498.5Z" fill="#efab6e"/><path d="M404.8,506.0 427.0,503.5 427.0,530.9 407.3,528.4Z" fill="#f5d364"/><path d="M294.9,655.8 314.9,653.3 334.9,645.8 349.8,655.8 374.8,670.8 399.8,675.8 427.0,678.3 427.0,693.0 294.9,693.0Z" fill="#96d4d4"/><path d="M339.8,693.0 354.8,680.8 374.8,683.3 399.8,688.3 427.0,688.3 427.0,693.0Z" fill="#ffffff"/><path d="M289.9,605.9 297.4,605.9 297.4,615.9 289.9,615.9Z" fill="#ffffff"/><path d="M299.9,615.9 307.4,615.9 307.4,628.3 299.9,628.3Z" fill="#ffffff"/><path d="M312.4,600.9 319.9,600.9 319.9,605.9 312.4,605.9Z" fill="#ffffff"/><path d="M317.4,628.3 324.9,628.3 324.9,638.3 317.4,638.3Z" fill="#f5d364"/><path d="M332.4,615.9 339.8,615.9 339.8,625.8 332.4,625.8Z" fill="#f5d364"/><path d="M299.9,506.0 309.9,501.0 319.9,496.0 324.9,508.5 329.9,518.5 324.9,530.9 317.4,540.9 312.4,555.9 299.9,563.4 292.4,568.4 284.9,565.9 289.9,555.9 287.4,545.9 287.4,530.9 294.9,526.0 302.4,521.0 307.4,511.0Z" fill="#ffffff"/><path d="M319.9,481.0 369.8,481.0 362.3,496.0 342.3,506.0 329.9,518.5 324.9,530.9 319.9,545.9 314.9,560.9 309.9,575.9 304.9,585.9 294.9,590.9 292.4,568.4 299.9,563.4 312.4,555.9 317.4,540.9 324.9,530.9 329.9,518.5 324.9,508.5 319.9,496.0Z" fill="url(#stipd)"/><path d="M364.8,530.9 389.8,526.0 419.8,530.9 424.8,640.8 394.8,630.8 374.8,605.9Z" fill="url(#stipd)"/><path d="M249.9,560.9 274.9,560.9 282.4,585.9 279.9,655.8 264.9,693.0 249.9,693.0 247.4,655.8 247.4,593.4Z" fill="url(#stipl)"/></g>
<clipPath id="fz7"><rect x="399.5" y="480.5" width="228" height="213"/></clipPath>
<g clip-path="url(#fz7)"><path d="M400.0,481.0 627.0,481.0 627.0,693.0 400.0,693.0Z" fill="#efab6e"/><path d="M627.0,496.0 627.0,693.0 440.0,693.0 440.0,693.0 437.5,675.8 430.0,665.8 420.0,658.3 435.0,660.8 449.9,664.5 472.4,663.3 479.9,658.3 487.4,650.8 497.4,638.3 504.9,628.3 512.4,623.3 519.9,615.9 527.4,605.9 534.9,593.4 542.3,583.4 549.8,570.9 549.8,555.9 549.8,543.4 559.8,533.4 572.3,526.0 584.8,518.5 599.8,508.5 614.8,503.5 627.0,496.0Z" fill="#aedea0"/><path d="M400.0,650.8 420.0,653.3 420.0,658.3 430.0,665.8 437.5,675.8 440.0,693.0 400.0,693.0Z" fill="#aedea0"/><path d="M400.0,665.8 425.0,665.8 437.5,678.3 440.0,693.0 400.0,693.0Z" fill="#96d4d4"/><path d="M559.8,533.4 574.8,530.9 599.8,530.9 597.3,538.4 574.8,545.9 569.8,563.4 564.8,585.9 554.8,598.4 539.8,615.9 529.9,630.8 514.9,640.8 499.9,653.3 487.4,660.8 497.4,638.3 504.9,628.3 512.4,623.3 519.9,615.9 527.4,605.9 534.9,593.4 542.3,583.4 549.8,570.9 549.8,555.9 549.8,543.4Z" fill="#f5d364"/><path d="M400.0,663.3 425.0,670.8 449.9,670.8 474.9,665.8 499.9,655.8 519.9,645.8 539.8,633.3 554.8,623.3 574.8,605.9 594.8,593.4 614.8,583.4 627.0,578.4 627.0,693.0 400.0,693.0Z" fill="#96d4d4"/><path d="M627.0,580.9 612.3,583.4 599.8,590.9 579.8,600.9 559.8,615.9 539.8,630.8 534.9,640.8 519.9,655.8 494.9,665.8 474.9,670.8 449.9,678.3 425.0,680.8 400.0,680.8 400.0,693.0 627.0,693.0Z" fill="#ffffff"/><path d="M400.0,501.0 427.5,501.0 427.5,526.0 400.0,526.0Z" fill="#f5d364"/><path d="M459.9,481.0 509.9,481.0 509.9,506.0 459.9,506.0Z" fill="#f5d364"/><path d="M479.9,488.5 494.9,488.5 494.9,518.5 482.4,518.5Z" fill="#aedea0"/><path d="M574.8,481.0 627.0,481.0 627.0,496.0 574.8,496.0Z" fill="#f5d364"/><path d="M430.0,521.0 474.9,521.0 474.9,555.9 430.0,555.9Z" fill="#f5d364"/><path d="M474.9,506.0 549.8,506.0 552.3,545.9 474.9,545.9Z" fill="#f5d364"/><path d="M504.9,526.0 539.8,526.0 539.8,545.9 504.9,545.9Z" fill="#efab6e"/><path d="M474.9,605.9 499.9,605.9 499.9,620.8 474.9,620.8Z" fill="#f5d364"/><path d="M519.9,555.9 539.8,555.9 539.8,580.9 519.9,580.9Z" fill="#f5d364"/><path d="M400.0,630.8 425.0,630.8 425.0,660.8 400.0,660.8Z" fill="#f5d364"/><path d="M420.0,630.8 484.9,630.8 484.9,660.8 420.0,660.8Z" fill="#f5d364"/></g>
<clipPath id="fz8"><rect x="286.5" y="389.5" width="114" height="92"/></clipPath>
<g clip-path="url(#fz8)"><path d="M270.0,390.0 400.0,390.0 400.0,500.0 270.0,500.0Z" fill="#efab6e"/><path d="M278.6,390.0 291.5,398.6 305.8,411.5 320.1,422.9 338.6,435.8 341.5,441.5 330.1,442.9 312.9,437.2 295.7,428.6 281.4,421.5 272.9,415.7 270.0,404.3Z" fill="#ef9178"/><path d="M308.6,404.3 317.2,405.7 330.1,415.7 341.5,425.8 350.1,432.9 355.8,437.2 350.1,441.5 338.6,437.2 324.3,425.8 310.0,412.9Z" fill="#f5d364"/><path d="M338.6,390.0 370.1,390.0 373.0,398.6 367.2,407.2 355.8,410.0 344.4,404.3Z" fill="#f5d364"/><path d="M347.2,431.5 361.5,432.9 378.7,438.6 391.6,447.2 390.1,461.5 373.0,464.4 358.7,455.8 350.1,444.3Z" fill="#f5d364"/><path d="M317.2,470.1 330.1,470.1 334.4,487.2 324.3,490.1 318.6,481.5Z" fill="#f5d364"/><path d="M344.4,467.2 358.7,464.4 367.2,470.1 367.2,490.1 350.1,488.7 344.4,478.7Z" fill="#aedea0"/><path d="M270.0,464.4 278.6,464.4 284.3,475.8 287.2,500.0 270.0,500.0Z" fill="#96d4d4"/><path d="M270.0,475.8 275.7,478.7 281.4,500.0 270.0,500.0Z" fill="#ffffff"/><path d="M278.6,390.0 291.5,398.6 305.8,411.5 320.1,422.9 338.6,435.8 341.5,441.5 330.1,442.9 312.9,437.2 295.7,428.6 281.4,421.5 272.9,415.7 270.0,404.3Z" fill="url(#stipd)"/></g>
<clipPath id="fz9"><rect x="286.5" y="181.5" width="164" height="105"/></clipPath>
<g clip-path="url(#fz9)"><path d="M287.0,180.0 450.0,180.0 450.0,300.0 287.0,300.0Z" fill="#f5d364"/><path d="M287.0,180.0 308.5,180.0 306.7,194.3 301.3,206.9 294.2,214.1 287.0,214.1Z" fill="#efab6e"/><path d="M287.0,226.6 297.8,228.4 312.1,241.0 315.7,255.3 315.7,273.2 308.5,280.4 287.0,280.4Z" fill="#efab6e"/><path d="M380.2,196.1 398.2,196.1 412.5,201.5 416.1,219.4 423.3,233.8 430.5,251.7 423.3,280.4 426.9,300.0 340.8,300.0 333.6,280.4 340.8,266.1 342.6,248.1 351.6,241.0 369.5,244.6 380.2,248.1 378.5,233.8 376.7,215.9Z" fill="#efab6e"/><path d="M348.0,251.7 362.3,249.9 371.3,262.5 371.3,267.9 358.7,262.5Z" fill="#f5d364"/><path d="M335.4,273.2 358.7,271.5 362.3,280.4 340.8,284.0Z" fill="#f5d364"/><path d="M401.8,223.0 410.7,223.0 410.7,228.4 401.8,228.4Z" fill="#f5d364"/><path d="M403.6,251.7 416.1,251.7 416.1,258.9 403.6,258.9Z" fill="#f5d364"/><path d="M387.4,273.2 401.8,275.0 403.6,287.6 391.0,287.6Z" fill="#f5d364"/><path d="M287.0,287.6 358.7,287.6 358.7,300.0 287.0,300.0Z" fill="#efab6e"/><path d="M410.7,180.0 439.4,180.0 441.2,190.8 430.5,197.9 416.1,190.8Z" fill="#aedea0"/><path d="M351.6,194.3 362.3,192.6 362.3,199.7 353.3,199.7Z" fill="#efab6e"/></g>
<clipPath id="fz10"><rect x="419.5" y="199.5" width="121" height="131"/></clipPath>
<g clip-path="url(#fz10)"><path d="M420.0,200.0 560.0,200.0 560.0,330.0 420.0,330.0Z" fill="#f5d364"/><path d="M453.9,201.5 473.9,201.5 473.9,213.9 455.4,213.9Z" fill="#efab6e"/><path d="M447.7,223.1 466.2,220.0 484.7,216.9 492.4,212.3 500.1,223.1 509.3,238.5 515.5,246.2 506.2,249.3 493.9,246.2 484.7,238.5 470.8,246.2 461.6,244.7 453.9,238.5 450.8,230.8Z" fill="#efab6e"/><path d="M493.9,200.0 560.0,200.0 560.0,270.8 550.9,277.0 537.1,280.1 530.9,292.4 527.8,314.0 530.9,330.0 515.5,330.0 518.6,307.8 512.4,286.2 506.2,266.2 512.4,252.4 506.2,238.5 497.0,218.5Z" fill="#efab6e"/><path d="M535.5,277.0 550.9,277.0 550.9,295.5 537.1,295.5Z" fill="#f5d364"/><path d="M486.2,252.4 500.1,252.4 500.1,272.4 487.8,272.4Z" fill="#efab6e"/><path d="M497.0,277.0 509.3,277.0 509.3,289.3 498.5,289.3Z" fill="#efab6e"/><path d="M420.0,230.8 438.5,233.9 438.5,264.7 420.0,264.7Z" fill="#efab6e"/><path d="M424.6,280.1 438.5,280.1 438.5,298.6 426.2,298.6Z" fill="#efab6e"/><path d="M438.5,300.1 466.2,295.5 486.2,286.2 500.1,292.4 512.4,307.8 518.6,330.0 433.9,330.0 435.4,317.1Z" fill="#aedea0"/><path d="M480.1,301.7 490.8,301.7 490.8,307.8 480.1,307.8Z" fill="#96d4d4"/><path d="M446.2,314.0 453.9,314.0 453.9,326.3 446.2,326.3Z" fill="#96d4d4"/></g>
<path d="M172.4,126.4 300.0,133.0 420.0,137.0 470.0,137.0 490.0,137.0 507.0,145.0 514.0,154.0 520.0,175.0 528.0,205.0 535.0,215.0 553.0,216.0 580.0,221.0 600.0,232.0 603.0,248.0 611.0,240.0 640.0,245.0 660.0,248.0 680.0,250.0 700.0,255.0 720.0,272.0 727.0,282.0 730.0,300.0 727.0,320.0 720.0,340.0 705.0,360.0 690.0,380.0 674.0,400.0 674.0,420.0 672.0,445.0 660.0,460.0 649.0,470.0 645.0,485.0 647.0,496.0 620.0,505.0 595.0,510.0 570.0,525.0 555.0,538.0 550.0,555.0 550.0,571.0 537.0,590.0 520.0,610.0 505.0,630.0 487.0,650.0 472.0,663.0 450.0,665.0 430.0,660.0 400.0,650.0 375.0,620.0 355.0,580.0 345.0,540.0 335.0,505.0 310.0,480.0 290.0,470.0 268.0,449.0 260.0,446.0 249.0,439.0 234.0,427.0 213.0,415.0 199.0,404.0 186.0,386.0 174.1,360.0 164.9,346.0 157.4,328.5 146.2,308.5 132.4,293.5 121.2,287.2 122.4,286.0 124.9,271.3 132.4,261.3 134.9,257.6 139.9,237.6 134.9,233.8 124.9,236.3 126.2,226.4 132.4,211.4 137.4,195.0 148.7,191.4 154.9,181.4 167.4,173.9 173.6,166.4 176.1,160.2 173.6,138.9Z" fill="url(#stipg)"/>
<g clip-path="url(#cT1)" fill="none" stroke="#8a6a4a" stroke-width="0.8"></g>
<g clip-path="url(#cT1)" fill="#000"></g>
<g clip-path="url(#cT1)" fill="url(#stip)"></g>
<g clip-path="url(#cT1)" fill="none" stroke="#000" stroke-width="2" stroke-linejoin="round" stroke-linecap="round"></g>
<g clip-path="url(#cT2)" fill="none" stroke="#8a6a4a" stroke-width="0.8"></g>
<g clip-path="url(#cT2)" fill="#000"></g>
<g clip-path="url(#cT2)" fill="url(#stip)"></g>
<g clip-path="url(#cT2)" fill="none" stroke="#000" stroke-width="2" stroke-linejoin="round" stroke-linecap="round"></g>
<g clip-path="url(#cT3)" fill="none" stroke="#8a6a4a" stroke-width="0.8"></g>
<g clip-path="url(#cT3)" fill="#000"></g>
<g clip-path="url(#cT3)" fill="url(#stip)"></g>
<g clip-path="url(#cT3)" fill="none" stroke="#000" stroke-width="2" stroke-linejoin="round" stroke-linecap="round"></g>
<g clip-path="url(#cT4)" fill="none" stroke="#8a6a4a" stroke-width="0.8"></g>
<g clip-path="url(#cT4)" fill="#000"></g>
<g clip-path="url(#cT4)" fill="url(#stip)"></g>
<g clip-path="url(#cT4)" fill="none" stroke="#000" stroke-width="2" stroke-linejoin="round" stroke-linecap="round"></g>
<g clip-path="url(#cT5)" fill="none" stroke="#8a6a4a" stroke-width="0.8"></g>
<g clip-path="url(#cT5)" fill="#000"></g>
<g clip-path="url(#cT5)" fill="url(#stip)"></g>
<g clip-path="url(#cT5)" fill="none" stroke="#000" stroke-width="2" stroke-linejoin="round" stroke-linecap="round"></g>
<g clip-path="url(#cT6)" fill="none" stroke="#8a6a4a" stroke-width="0.8"></g>
<g clip-path="url(#cT6)" fill="#000"></g>
<g clip-path="url(#cT6)" fill="url(#stip)"></g>
<g clip-path="url(#cT6)" fill="none" stroke="#000" stroke-width="2" stroke-linejoin="round" stroke-linecap="round"></g>
<g clip-path="url(#cT7)" fill="none" stroke="#8a6a4a" stroke-width="0.8"></g>
<g clip-path="url(#cT7)" fill="#000"></g>
<g clip-path="url(#cT7)" fill="url(#stip)"></g>
<g clip-path="url(#cT7)" fill="none" stroke="#000" stroke-width="2" stroke-linejoin="round" stroke-linecap="round"></g>
<g clip-path="url(#cT8)" fill="none" stroke="#8a6a4a" stroke-width="0.8"></g>
<g clip-path="url(#cT8)" fill="#000"></g>
<g clip-path="url(#cT8)" fill="url(#stip)"></g>
<g clip-path="url(#cT8)" fill="none" stroke="#000" stroke-width="2" stroke-linejoin="round" stroke-linecap="round"></g>
<g clip-path="url(#cT9)" fill="none" stroke="#8a6a4a" stroke-width="0.8"></g>
<g clip-path="url(#cT9)" fill="#000"></g>
<g clip-path="url(#cT9)" fill="url(#stip)"></g>
<g clip-path="url(#cT9)" fill="none" stroke="#000" stroke-width="2" stroke-linejoin="round" stroke-linecap="round"></g>
<g fill="none" stroke="#000" stroke-width="2.9" stroke-linejoin="round" stroke-linecap="round"><path d="M98.7,79.5 106.2,85.2 112.4,90.2 118.7,92.7 126.2,90.2 134.9,87.7 139.9,85.2 144.9,83.5 149.9,84.0 157.4,87.7 164.9,92.7 171.1,97.7 176.1,101.5 179.9,105.2"/><path d="M178.6,104.0 183.6,96.5 189.9,89.0 194.9,84.0 196.1,77.7"/><path d="M98.7,79.5 100.0,86.5 98.7,94.0 100.0,104.0 106.2,101.5 113.7,105.2 119.9,107.7 126.2,114.0 132.4,112.7 137.4,110.2 136.2,104.0 137.4,97.7 142.4,92.7 149.9,91.5 158.6,95.2 162.4,100.2 159.9,105.2 162.4,109.0 167.4,110.2 169.9,117.7 172.4,126.4 173.6,138.9 174.9,148.9 176.1,160.2 173.6,166.4 167.4,173.9 159.9,176.4 154.9,181.4 153.6,187.6 148.7,191.4 142.4,193.9 137.4,195.1 134.9,201.4 132.4,211.3 128.7,218.8 126.2,226.3 124.9,236.3 128.7,238.8 134.9,233.8 139.9,237.6 137.4,246.3 134.9,257.5 132.4,261.3 124.9,271.3 121.2,276.3 122.4,286.0"/><path d="M132.4,261.3 137.4,263.8 143.7,271.3 149.9,273.8"/><path d="M164.9,196.4 169.9,200.1 184.9,203.9 194.9,208.9 199.8,218.8 197.3,228.8 189.9,236.3 177.4,243.8 164.9,251.3 157.4,263.8 149.9,273.8"/><path d="M194.9,208.9 209.8,213.8 214.8,221.3 222.3,231.3 229.8,238.8 242.3,240.1 254.8,240.1 264.8,241.3 272.3,241.3"/><path d="M287.0,183.9 271.0,186.4 272.3,198.9 279.8,198.9 277.3,203.9 274.8,208.9 276.0,218.8 274.8,228.8 272.3,241.3 267.3,263.8 258.5,260.0 269.8,248.8"/><path d="M267.3,263.8 249.8,268.8 234.8,276.3 229.8,286.0"/><path d="M224.8,86.5 234.8,91.5 238.6,101.5 239.8,109.0 242.3,114.0 254.8,116.5 269.8,122.7 277.3,127.7 287.0,127.7"/><path d="M241.1,77.7 249.8,77.7 254.8,84.0 249.8,90.2 243.5,86.5 241.1,77.7"/><path d="M361.9,77.7 371.9,79.0 379.4,81.5 386.9,85.2 388.1,92.7 383.1,95.2 378.1,96.5 381.9,99.0 394.4,97.7 401.9,99.0 411.9,105.2 418.1,112.7 419.4,120.2 416.9,125.2"/><path d="M419.4,119.0 426.8,122.7 436.8,127.7 446.8,131.4 454.3,133.9 461.8,131.4 471.8,132.7 479.3,133.9 486.8,135.2 496.8,140.2 504.3,146.4 514.0,153.9"/><path d="M398.1,99.0 391.9,106.5 389.4,114.0 394.4,116.5 386.9,120.2 383.1,126.4 381.9,131.4 386.9,137.7 394.4,140.2 398.1,145.2 399.4,153.9 400.6,161.4 399.4,171.4 403.1,181.4 409.4,188.9 416.9,190.1"/><path d="M416.9,190.1 426.8,186.4 436.8,183.9 444.3,182.6 451.8,183.9 459.3,178.9 466.8,176.4 470.5,177.6"/><path d="M436.8,130.2 434.3,141.4 428.1,146.4 426.8,156.4 434.3,163.9 438.1,171.4 441.8,181.4 444.3,183.9"/><path d="M479.3,133.9 474.3,141.4 471.8,151.4 474.3,161.4 471.8,168.9 470.5,176.4 468.1,180.1"/><path d="M509.3,148.9 504.3,161.4 499.3,171.4 491.8,177.6 481.8,178.9 470.5,177.6"/><path d="M468.1,180.1 476.8,186.4 484.3,193.9 489.3,203.9 494.3,216.3 501.8,223.8 506.8,226.3"/><path d="M335.7,153.9 346.9,155.2 356.9,160.2 364.4,158.9 371.9,155.2 379.4,150.2 389.4,146.4 398.1,141.4"/><path d="M335.7,153.9 344.4,166.4 346.9,173.9 354.4,181.4 361.9,188.9 366.9,206.4 369.4,218.8 373.2,223.8 379.4,228.8 381.9,221.3 389.4,216.3 396.9,213.8 401.9,206.4 414.4,205.1"/><path d="M414.4,191.4 414.4,205.1 416.9,213.8 421.9,221.3 434.3,228.8 446.8,236.3 436.8,258.8 426.8,286.0"/><path d="M287.0,127.2 292.0,125.9 297.0,126.4 300.7,127.7 299.5,133.9 298.2,146.4 302.0,156.4 298.2,163.9 302.0,173.9 303.2,183.9 309.5,191.4 319.5,196.4 327.0,198.9"/><path d="M287.0,183.9 303.2,180.1"/><path d="M514.0,152.7 519.0,168.9 526.5,181.4 530.2,191.4"/><path d="M561.4,216.3 571.4,218.8 581.4,222.6 591.4,226.3 598.9,233.8 601.4,243.8 600.2,248.8 608.9,241.3 618.9,240.1 628.9,243.8 638.9,245.1 648.9,246.3 658.8,246.3 668.8,251.3 678.8,258.8 688.8,266.3 696.3,271.3 703.8,273.8 713.8,273.8 721.3,276.3 726.3,286.0"/><path d="M581.4,223.8 577.7,236.3 573.9,248.8 568.9,261.3 561.4,271.3 556.5,278.8 554.0,286.0"/><path d="M623.9,246.3 621.4,258.8 623.9,273.8 621.4,286.0"/><path d="M643.9,248.8 646.4,263.8 648.9,278.8 650.1,286.0"/><path d="M121.2,287.2 132.4,293.5 139.9,299.7 146.2,308.5 152.4,318.5 157.4,328.5 159.9,335.9 164.9,345.9 169.9,353.4 174.9,360.9 178.9,369.9 186.4,384.4 185.4,390.9 191.9,401.9 203.1,410.6 219.6,419.4 236.1,427.1 249.3,436.1 251.3,440.3 266.0,448.3 264.8,460.8 266.0,475.8 267.3,498.0"/><path d="M226.1,286.0 221.1,296.0 217.3,304.7 224.8,316.0 232.3,329.7 239.8,338.4 252.3,338.4 259.8,333.4 262.3,339.7 267.3,348.4 277.3,353.4 287.0,353.4"/><path d="M217.3,304.7 234.8,307.2 259.8,311.0 287.0,318.5"/><path d="M274.8,353.4 279.8,365.9 284.8,380.9 282.3,395.9 279.8,410.9 277.3,425.8 274.8,435.8 271.0,442.1 277.3,450.8 282.3,460.8 287.0,470.8"/><path d="M425.6,286.0 421.9,293.5 419.4,298.5 423.1,306.0 421.9,316.0 420.6,323.5 379.4,323.5 380.6,352.2 399.4,353.4 400.6,360.9 399.4,370.9 394.4,380.9 391.9,388.4 394.4,398.4 396.9,410.9 396.9,420.9 419.4,422.1 421.9,430.8 429.3,438.3 431.8,443.3 446.8,435.8 461.8,435.8 476.8,438.3 481.8,435.8 484.3,442.1"/><path d="M423.1,306.0 431.8,323.5 441.8,332.2 514.0,335.9"/><path d="M287.0,328.5 302.0,333.4 314.5,335.9 324.5,334.7 336.9,327.2 349.4,318.5 354.4,313.5 361.9,314.7 369.4,321.0 379.4,323.5"/><path d="M287.0,353.4 299.5,345.9 312.0,338.4 324.5,334.7"/><path d="M328.2,338.4 330.7,355.9 339.4,368.4 354.4,375.9 366.9,380.9 379.4,385.9 389.4,387.1 394.4,388.4"/><path d="M514.0,405.9 504.3,408.4 496.8,418.4 489.3,425.8 486.8,438.3 491.8,448.3"/><path d="M431.8,443.3 429.3,455.8 424.3,468.3 424.3,483.3 426.8,498.0"/><path d="M371.9,498.0 371.9,480.8 379.4,468.3 391.9,462.1 406.9,460.8 421.9,465.8 424.3,470.8"/><path d="M726.3,286.0 728.8,301.0 726.3,316.0 721.3,328.5 713.8,338.4 706.3,345.9 698.8,355.9 691.3,365.9 683.8,373.4 678.8,380.9 673.8,385.9 673.8,398.4 673.8,415.9 673.8,430.8 668.8,440.8 661.3,450.8 656.3,465.8 650.1,478.3 647.6,485.8 646.9,496.0"/><path d="M683.8,289.7 693.8,297.2 703.8,296.0 711.3,293.5 726.3,288.5"/><path d="M678.8,308.5 688.8,311.0 698.8,308.5 708.8,307.2 726.8,306.0"/><path d="M648.9,318.5 663.8,321.0 676.3,326.0 688.8,331.0 698.8,335.9 706.3,345.9"/><path d="M688.8,331.0 703.8,326.0 723.8,326.0"/><path d="M648.9,286.0 652.6,298.5 653.8,306.0 648.9,313.5 648.9,318.5"/><path d="M621.4,286.0 623.9,293.5 618.9,298.5 608.9,303.5 596.4,306.0 586.4,316.0 586.4,326.0 588.9,335.9 588.9,345.9 598.9,348.4 613.9,338.4 621.4,331.0 633.9,331.0 648.9,323.5"/><path d="M554.0,286.0 551.5,296.0 559.0,306.0 568.9,313.5 573.9,321.0 576.4,331.0 583.9,340.9 588.9,345.9"/><path d="M544.0,301.0 534.0,316.0 529.0,331.0 524.0,345.9 521.5,360.9 521.5,373.4 514.0,390.9"/><path d="M514.0,337.2 526.5,337.2"/><path d="M521.5,373.4 539.0,378.4 551.5,380.9 563.9,382.1 573.9,379.6 581.4,377.1"/><path d="M577.7,345.9 577.7,360.9 580.2,375.9 581.4,390.9 582.7,408.4"/><path d="M582.7,408.4 596.4,400.9 608.9,395.9 618.9,400.9 628.9,405.9 638.9,410.9 643.9,415.9 653.8,418.4 658.8,425.8 653.8,435.8"/><path d="M582.7,408.4 573.9,410.9 571.4,418.4 566.4,425.8 563.9,435.8 563.9,448.3 551.5,450.8 534.0,453.3 518.5,468.3"/><path d="M552.7,412.1 565.2,412.1 565.2,418.4 552.7,418.4 552.7,412.1"/><path d="M653.8,435.8 648.9,445.8 646.4,455.8 643.9,465.8 641.4,475.8 638.9,485.8"/><path d="M267.4,481.0 268.7,496.0 266.2,511.0 262.4,516.0 261.2,530.9 259.9,545.9 258.7,560.9 253.7,575.9 249.9,588.4 248.7,600.9 246.2,615.9 247.4,630.8 245.0,650.8 240.0,665.8 232.5,680.8 227.5,693.0"/><path d="M286.2,481.0 291.1,491.0 294.9,501.0 298.6,506.0 309.9,501.0 319.9,494.7 329.9,496.0 339.8,501.0 342.3,506.0 347.3,498.5 359.8,496.0 364.8,498.5 374.8,506.0 389.8,516.0 399.8,521.5"/><path d="M309.9,501.0 307.4,511.0 302.4,521.0 294.9,526.0 287.4,530.9 287.4,545.9 289.9,555.9 284.9,565.9 279.9,570.9 274.9,580.9 272.4,590.9 269.9,600.9 267.4,615.9 264.9,625.8 267.4,635.8 269.9,645.8 267.4,655.8 262.4,670.8 257.4,680.8 252.4,693.0"/><path d="M369.8,481.0 364.8,496.0"/><path d="M400.0,523.5 431.2,540.9 426.2,552.2 417.5,564.7 454.9,567.2 469.9,558.4 477.4,543.4 482.4,555.9 482.4,563.4 489.9,563.4 509.9,555.9"/><path d="M425.0,481.0 426.2,498.5 454.9,499.7 459.9,519.7 474.9,523.5 472.4,544.7 477.4,543.4"/><path d="M487.4,503.5 504.9,503.5 524.9,508.5 534.9,513.5 539.8,528.4 547.3,533.4 552.3,538.4"/><path d="M482.4,550.9 499.9,553.4 512.4,555.9 524.9,550.9 539.8,548.4 552.3,545.9"/><path d="M430.0,603.4 437.5,590.9 447.4,580.9 459.9,570.9 474.9,565.9 484.9,560.9"/><path d="M474.9,565.9 494.9,568.4 512.4,575.9 524.9,580.9 532.4,583.4"/><path d="M552.3,540.9 549.8,555.9 549.8,570.9 542.3,583.4 534.9,593.4 527.4,605.9 519.9,615.9 512.4,623.3 504.9,628.3 497.4,638.3 487.4,650.8 479.9,658.3 472.4,663.3"/><path d="M502.4,625.8 509.9,615.9 519.9,605.9 517.4,615.9 507.4,625.8"/><path d="M430.0,603.4 442.5,603.4 457.4,615.9 469.9,623.3 479.9,630.8 489.9,637.1 484.9,643.3 484.9,655.8 474.9,663.3"/><path d="M430.0,603.4 425.0,620.8 422.5,635.8 420.0,650.8 420.0,658.3 435.0,660.8 449.9,664.5 467.4,665.8 474.9,663.3"/><path d="M420.0,658.3 430.0,665.8 437.5,675.8 440.0,693.0"/><path d="M535.0,243.8 538.3,241.6 543.8,231.7 548.2,227.3 557.0,230.6 559.2,229.5"/><path d="M550.4,218.5 557.0,216.3 563.6,217.4 570.2,218.5 580.0,220.7"/><path d="M518.5,180.0 524.0,182.2 530.6,186.6 531.7,193.2"/><path d="M480.0,189.9 485.5,192.1 489.9,200.9 493.2,209.7 497.6,218.5 502.0,224.0 505.3,226.2"/><path d="M647.1,496.3 635.5,503.5 621.1,506.4 606.6,509.3 595.0,515.1 583.4,520.9 571.9,528.1 560.3,533.9 554.5,538.2"/><path d="M599.9,505.0 618.2,497.7 635.5,490.5 647.1,484.7"/><path d="M491.8,448.3 500.0,455.0 510.0,462.0 518.6,468.5"/><path d="M518.6,468.5 530.0,469.0 540.1,470.0 546.3,474.7 564.8,471.6 574.0,488.6 577.1,502.4 600.0,504.0"/><path d="M518.6,468.5 509.3,480.8 498.5,499.3 487.4,501.0 477.4,511.0 474.9,523.5"/><path d="M347.0,174.0 346.2,180.0 340.8,188.0 330.0,193.4 328.0,198.8 321.0,197.0 312.0,194.3 306.7,189.0 305.0,180.0"/><path d="M514.0,390.9 513.0,399.0 514.0,406.0"/><path d="M554.0,286.0 549.0,294.0 543.7,301.0"/><path d="M576.7,344.7 583.0,344.0 588.6,346.0"/></g>
<g fill="#000" stroke="#000" stroke-width="2" stroke-linejoin="round"><path d="M531.2,193.2 528.4,197.6 521.8,204.2 515.2,208.6 508.6,216.3 505.3,225.1 509.7,228.4 518.5,227.3 526.2,224.0 530.6,221.8 531.7,213.0 531.7,202.0Z"/><path d="M518.5,227.3 511.9,231.7 511.9,235.0 519.6,235.0 527.3,231.7 535.0,228.4 541.6,226.2 548.2,226.2 551.5,224.0 552.6,218.5 550.4,213.0 546.0,211.9 541.6,211.9 531.7,210.8 532.8,213.0 541.6,214.1 548.2,215.2 549.3,221.8 541.6,222.9 531.7,221.8 526.2,225.1Z"/><path d="M532.0,213.5 550.5,212.2 558.4,218.8 553.1,224.1 561.1,229.4 547.9,232.0 537.3,243.9 533.3,242.6 537.3,232.0 532.0,226.7Z"/></g>
<circle cx="741.9" cy="259" r="1.1" fill="none" stroke="#000" stroke-width="0.8"/><circle cx="759.6" cy="259" r="1.7" fill="#000"/>
<g fill="none" stroke="#000" stroke-width="4.2" stroke-linejoin="round" stroke-linecap="round"><path d="M532.0,216.0 553.0,216.0 579.5,221.4 600.6,232.0 603.3,247.8 611.2,240.0 640.0,245.0"/></g>
<g stroke="#b0b0b0" stroke-width="1" stroke-dasharray="5,2.4" fill="none"><line x1="138.7" y1="75.5" x2="138.7" y2="691.3"/><line x1="269.4" y1="75.5" x2="269.4" y2="691.3"/><line x1="400.1" y1="75.5" x2="400.1" y2="691.3"/><line x1="530.8" y1="75.5" x2="530.8" y2="691.3"/><line x1="661.5" y1="75.5" x2="661.5" y2="691.3"/><line x1="61.5" y1="130.9" x2="775.5" y2="130.9"/><line x1="61.5" y1="209.4" x2="775.5" y2="209.4"/><line x1="61.5" y1="287.9" x2="775.5" y2="287.9"/><line x1="61.5" y1="366.5" x2="775.5" y2="366.5"/><line x1="61.5" y1="445.0" x2="775.5" y2="445.0"/><line x1="61.5" y1="523.6" x2="775.5" y2="523.6"/><line x1="61.5" y1="602.1" x2="775.5" y2="602.1"/><line x1="61.5" y1="680.6" x2="775.5" y2="680.6"/></g>
<g font-size="10.3" fill="#000"><rect x="157.4" y="205.6" width="16" height="10" fill="#fff"/><text x="165.4" y="214.3" text-anchor="middle" textLength="12.5" lengthAdjust="spacingAndGlyphs">50</text><rect x="180.0" y="128.3" width="16" height="10" fill="#fff"/><text x="188.0" y="137.0" text-anchor="middle" textLength="12.5" lengthAdjust="spacingAndGlyphs">46</text><rect x="223.3" y="132.6" width="16" height="10" fill="#fff"/><text x="231.3" y="141.3" text-anchor="middle" textLength="12.5" lengthAdjust="spacingAndGlyphs">48</text><rect x="282.5" y="135.4" width="16" height="10" fill="#fff"/><text x="290.5" y="144.1" text-anchor="middle" textLength="12.5" lengthAdjust="spacingAndGlyphs">44</text><rect x="208.0" y="154.0" width="16" height="10" fill="#fff"/><text x="216.0" y="162.7" text-anchor="middle" textLength="12.5" lengthAdjust="spacingAndGlyphs">46</text><rect x="176.6" y="167.2" width="16" height="10" fill="#fff"/><text x="184.6" y="175.9" text-anchor="middle" textLength="12.5" lengthAdjust="spacingAndGlyphs">48</text><rect x="188.6" y="173.2" width="16" height="10" fill="#fff"/><text x="196.6" y="181.9" text-anchor="middle" textLength="12.5" lengthAdjust="spacingAndGlyphs">46</text><rect x="150.8" y="191.6" width="16" height="10" fill="#fff"/><text x="158.8" y="200.3" text-anchor="middle" textLength="12.5" lengthAdjust="spacingAndGlyphs">44</text><rect x="154.5" y="200.7" width="16" height="10" fill="#fff"/><text x="162.5" y="209.4" text-anchor="middle" textLength="12.5" lengthAdjust="spacingAndGlyphs">52</text><rect x="141.6" y="221.6" width="16" height="10" fill="#fff"/><text x="149.6" y="230.3" text-anchor="middle" textLength="12.5" lengthAdjust="spacingAndGlyphs">46</text><rect x="211.5" y="217.3" width="16" height="10" fill="#fff"/><text x="219.5" y="226.0" text-anchor="middle" textLength="12.5" lengthAdjust="spacingAndGlyphs">44</text><rect x="186.6" y="231.7" width="16" height="10" fill="#fff"/><text x="194.6" y="240.4" text-anchor="middle" textLength="12.5" lengthAdjust="spacingAndGlyphs">44</text><rect x="261.9" y="234.5" width="16" height="10" fill="#fff"/><text x="269.9" y="243.2" text-anchor="middle" textLength="12.5" lengthAdjust="spacingAndGlyphs">44</text><rect x="171.4" y="250.3" width="16" height="10" fill="#fff"/><text x="179.4" y="259.0" text-anchor="middle" textLength="12.5" lengthAdjust="spacingAndGlyphs">44</text><rect x="295.0" y="278.5" width="16" height="10" fill="#fff"/><text x="303.0" y="287.2" text-anchor="middle" textLength="12.5" lengthAdjust="spacingAndGlyphs">44</text><rect x="331.1" y="155.5" width="16" height="10" fill="#fff"/><text x="339.1" y="164.2" text-anchor="middle" textLength="12.5" lengthAdjust="spacingAndGlyphs">46</text><rect x="345.4" y="171.2" width="16" height="10" fill="#fff"/><text x="353.4" y="179.9" text-anchor="middle" textLength="12.5" lengthAdjust="spacingAndGlyphs">44</text><rect x="326.8" y="187.0" width="16" height="10" fill="#fff"/><text x="334.8" y="195.7" text-anchor="middle" textLength="12.5" lengthAdjust="spacingAndGlyphs">44</text><rect x="425.6" y="195.0" width="16" height="10" fill="#fff"/><text x="433.6" y="203.7" text-anchor="middle" textLength="12.5" lengthAdjust="spacingAndGlyphs">44</text><rect x="416.2" y="238.0" width="16" height="10" fill="#fff"/><text x="424.2" y="246.7" text-anchor="middle" textLength="12.5" lengthAdjust="spacingAndGlyphs">44</text><rect x="449.4" y="279.4" width="16" height="10" fill="#fff"/><text x="457.4" y="288.1" text-anchor="middle" textLength="12.5" lengthAdjust="spacingAndGlyphs">44</text><rect x="504.4" y="247.4" width="16" height="10" fill="#fff"/><text x="512.4" y="256.1" text-anchor="middle" textLength="12.5" lengthAdjust="spacingAndGlyphs">44</text><rect x="514.5" y="265.2" width="16" height="10" fill="#fff"/><text x="522.5" y="273.9" text-anchor="middle" textLength="12.5" lengthAdjust="spacingAndGlyphs">44</text><rect x="518.0" y="297.2" width="16" height="10" fill="#fff"/><text x="526.0" y="305.9" text-anchor="middle" textLength="12.5" lengthAdjust="spacingAndGlyphs">44</text><rect x="715.2" y="167.2" width="16" height="10" fill="#fff"/><text x="723.2" y="175.9" text-anchor="middle" textLength="12.5" lengthAdjust="spacingAndGlyphs">44</text><rect x="607.2" y="207.3" width="16" height="10" fill="#fff"/><text x="615.2" y="216.0" text-anchor="middle" textLength="12.5" lengthAdjust="spacingAndGlyphs">44</text><rect x="629.3" y="220.2" width="16" height="10" fill="#fff"/><text x="637.3" y="228.9" text-anchor="middle" textLength="12.5" lengthAdjust="spacingAndGlyphs">44</text><rect x="637.9" y="247.4" width="16" height="10" fill="#fff"/><text x="645.9" y="256.1" text-anchor="middle" textLength="12.5" lengthAdjust="spacingAndGlyphs">44</text><rect x="592.0" y="264.4" width="16" height="10" fill="#fff"/><text x="600.0" y="273.1" text-anchor="middle" textLength="12.5" lengthAdjust="spacingAndGlyphs">44</text><rect x="668.5" y="303.3" width="16" height="10" fill="#fff"/><text x="676.5" y="312.0" text-anchor="middle" textLength="12.5" lengthAdjust="spacingAndGlyphs">46</text><rect x="173.7" y="312.3" width="16" height="10" fill="#fff"/><text x="181.7" y="321.0" text-anchor="middle" textLength="12.5" lengthAdjust="spacingAndGlyphs">46</text><rect x="155.1" y="325.2" width="16" height="10" fill="#fff"/><text x="163.1" y="333.9" text-anchor="middle" textLength="12.5" lengthAdjust="spacingAndGlyphs">48</text><rect x="177.1" y="331.5" width="16" height="10" fill="#fff"/><text x="185.1" y="340.2" text-anchor="middle" textLength="12.5" lengthAdjust="spacingAndGlyphs">54</text><rect x="163.7" y="344.3" width="16" height="10" fill="#fff"/><text x="171.7" y="353.0" text-anchor="middle" textLength="12.5" lengthAdjust="spacingAndGlyphs">44</text><rect x="177.1" y="358.1" width="16" height="10" fill="#fff"/><text x="185.1" y="366.8" text-anchor="middle" textLength="12.5" lengthAdjust="spacingAndGlyphs">54</text><rect x="231.3" y="347.5" width="16" height="10" fill="#fff"/><text x="239.3" y="356.2" text-anchor="middle" textLength="12.5" lengthAdjust="spacingAndGlyphs">44</text><rect x="197.2" y="388.2" width="16" height="10" fill="#fff"/><text x="205.2" y="396.9" text-anchor="middle" textLength="12.5" lengthAdjust="spacingAndGlyphs">54</text><rect x="231.3" y="380.1" width="16" height="10" fill="#fff"/><text x="239.3" y="388.8" text-anchor="middle" textLength="12.5" lengthAdjust="spacingAndGlyphs">54</text><rect x="251.0" y="379.3" width="16" height="10" fill="#fff"/><text x="259.0" y="388.0" text-anchor="middle" textLength="12.5" lengthAdjust="spacingAndGlyphs">50</text><rect x="231.3" y="402.2" width="16" height="10" fill="#fff"/><text x="239.3" y="410.9" text-anchor="middle" textLength="12.5" lengthAdjust="spacingAndGlyphs">54</text><rect x="269.6" y="418.2" width="16" height="10" fill="#fff"/><text x="277.6" y="426.9" text-anchor="middle" textLength="12.5" lengthAdjust="spacingAndGlyphs">52</text><rect x="297.6" y="451.2" width="16" height="10" fill="#fff"/><text x="305.6" y="459.9" text-anchor="middle" textLength="12.5" lengthAdjust="spacingAndGlyphs">54</text><rect x="311.6" y="454.0" width="16" height="10" fill="#fff"/><text x="319.6" y="462.7" text-anchor="middle" textLength="12.5" lengthAdjust="spacingAndGlyphs">54</text><rect x="315.4" y="341.8" width="16" height="10" fill="#fff"/><text x="323.4" y="350.5" text-anchor="middle" textLength="12.5" lengthAdjust="spacingAndGlyphs">44</text><rect x="318.2" y="371.5" width="16" height="10" fill="#fff"/><text x="326.2" y="380.2" text-anchor="middle" textLength="12.5" lengthAdjust="spacingAndGlyphs">44</text><rect x="388.4" y="370.7" width="16" height="10" fill="#fff"/><text x="396.4" y="379.4" text-anchor="middle" textLength="12.5" lengthAdjust="spacingAndGlyphs">46</text><rect x="384.1" y="394.5" width="16" height="10" fill="#fff"/><text x="392.1" y="403.2" text-anchor="middle" textLength="12.5" lengthAdjust="spacingAndGlyphs">44</text><rect x="497.8" y="374.4" width="16" height="10" fill="#fff"/><text x="505.8" y="383.1" text-anchor="middle" textLength="12.5" lengthAdjust="spacingAndGlyphs">44</text><rect x="537.5" y="396.5" width="16" height="10" fill="#fff"/><text x="545.5" y="405.2" text-anchor="middle" textLength="12.5" lengthAdjust="spacingAndGlyphs">48</text><rect x="459.1" y="413.4" width="16" height="10" fill="#fff"/><text x="467.1" y="422.1" text-anchor="middle" textLength="12.5" lengthAdjust="spacingAndGlyphs">46</text><rect x="366.0" y="423.1" width="16" height="10" fill="#fff"/><text x="374.0" y="431.8" text-anchor="middle" textLength="12.5" lengthAdjust="spacingAndGlyphs">44</text><rect x="525.8" y="445.4" width="16" height="10" fill="#fff"/><text x="533.8" y="454.1" text-anchor="middle" textLength="12.5" lengthAdjust="spacingAndGlyphs">48</text><rect x="438.2" y="451.2" width="16" height="10" fill="#fff"/><text x="446.2" y="459.9" text-anchor="middle" textLength="12.5" lengthAdjust="spacingAndGlyphs">44</text><rect x="350.0" y="457.0" width="16" height="10" fill="#fff"/><text x="358.0" y="465.7" text-anchor="middle" textLength="12.5" lengthAdjust="spacingAndGlyphs">44</text><rect x="370.9" y="465.3" width="16" height="10" fill="#fff"/><text x="378.9" y="474.0" text-anchor="middle" textLength="12.5" lengthAdjust="spacingAndGlyphs">44</text><rect x="401.3" y="494.9" width="16" height="10" fill="#fff"/><text x="409.3" y="503.6" text-anchor="middle" textLength="12.5" lengthAdjust="spacingAndGlyphs">44</text><rect x="670.8" y="332.9" width="16" height="10" fill="#fff"/><text x="678.8" y="341.6" text-anchor="middle" textLength="12.5" lengthAdjust="spacingAndGlyphs">44</text><rect x="633.6" y="374.4" width="16" height="10" fill="#fff"/><text x="641.6" y="383.1" text-anchor="middle" textLength="12.5" lengthAdjust="spacingAndGlyphs">44</text><rect x="646.5" y="418.2" width="16" height="10" fill="#fff"/><text x="654.5" y="426.9" text-anchor="middle" textLength="12.5" lengthAdjust="spacingAndGlyphs">44</text><rect x="569.4" y="465.3" width="16" height="10" fill="#fff"/><text x="577.4" y="474.0" text-anchor="middle" textLength="12.5" lengthAdjust="spacingAndGlyphs">50</text><rect x="719.5" y="481.6" width="16" height="10" fill="#fff"/><text x="727.5" y="490.3" text-anchor="middle" textLength="12.5" lengthAdjust="spacingAndGlyphs">46</text><rect x="279.7" y="544.4" width="16" height="10" fill="#fff"/><text x="287.7" y="553.1" text-anchor="middle" textLength="12.5" lengthAdjust="spacingAndGlyphs">44</text><rect x="252.5" y="575.3" width="16" height="10" fill="#fff"/><text x="260.5" y="584.0" text-anchor="middle" textLength="12.5" lengthAdjust="spacingAndGlyphs">48</text><rect x="268.2" y="575.3" width="16" height="10" fill="#fff"/><text x="276.2" y="584.0" text-anchor="middle" textLength="12.5" lengthAdjust="spacingAndGlyphs">50</text><rect x="279.7" y="579.0" width="16" height="10" fill="#fff"/><text x="287.7" y="587.7" text-anchor="middle" textLength="12.5" lengthAdjust="spacingAndGlyphs">50</text><rect x="290.5" y="571.0" width="16" height="10" fill="#fff"/><text x="298.5" y="579.7" text-anchor="middle" textLength="12.5" lengthAdjust="spacingAndGlyphs">48</text><rect x="251.6" y="582.5" width="16" height="10" fill="#fff"/><text x="259.6" y="591.2" text-anchor="middle" textLength="12.5" lengthAdjust="spacingAndGlyphs">52</text><rect x="245.3" y="599.0" width="16" height="10" fill="#fff"/><text x="253.3" y="607.7" text-anchor="middle" textLength="12.5" lengthAdjust="spacingAndGlyphs">44</text><rect x="266.8" y="598.2" width="16" height="10" fill="#fff"/><text x="274.8" y="606.9" text-anchor="middle" textLength="12.5" lengthAdjust="spacingAndGlyphs">50</text><rect x="258.2" y="626.8" width="16" height="10" fill="#fff"/><text x="266.2" y="635.5" text-anchor="middle" textLength="12.5" lengthAdjust="spacingAndGlyphs">44</text><rect x="266.8" y="661.2" width="16" height="10" fill="#fff"/><text x="274.8" y="669.9" text-anchor="middle" textLength="12.5" lengthAdjust="spacingAndGlyphs">50</text><rect x="263.9" y="642.6" width="16" height="10" fill="#fff"/><text x="271.9" y="651.3" text-anchor="middle" textLength="12.5" lengthAdjust="spacingAndGlyphs">46</text><rect x="276.2" y="639.2" width="16" height="10" fill="#fff"/><text x="284.2" y="647.9" text-anchor="middle" textLength="12.5" lengthAdjust="spacingAndGlyphs">46</text><rect x="268.8" y="655.5" width="16" height="10" fill="#fff"/><text x="276.8" y="664.2" text-anchor="middle" textLength="12.5" lengthAdjust="spacingAndGlyphs">52</text><rect x="316.0" y="536.6" width="16" height="10" fill="#fff"/><text x="324.0" y="545.3" text-anchor="middle" textLength="12.5" lengthAdjust="spacingAndGlyphs">46</text><rect x="311.9" y="559.0" width="16" height="10" fill="#fff"/><text x="319.9" y="567.7" text-anchor="middle" textLength="12.5" lengthAdjust="spacingAndGlyphs">50</text><rect x="389.2" y="542.4" width="16" height="10" fill="#fff"/><text x="397.2" y="551.1" text-anchor="middle" textLength="12.5" lengthAdjust="spacingAndGlyphs">46</text><rect x="380.7" y="561.8" width="16" height="10" fill="#fff"/><text x="388.7" y="570.5" text-anchor="middle" textLength="12.5" lengthAdjust="spacingAndGlyphs">48</text><rect x="436.2" y="559.5" width="16" height="10" fill="#fff"/><text x="444.2" y="568.2" text-anchor="middle" textLength="12.5" lengthAdjust="spacingAndGlyphs">46</text><rect x="488.9" y="556.7" width="16" height="10" fill="#fff"/><text x="496.9" y="565.4" text-anchor="middle" textLength="12.5" lengthAdjust="spacingAndGlyphs">50</text><rect x="507.2" y="591.6" width="16" height="10" fill="#fff"/><text x="515.2" y="600.3" text-anchor="middle" textLength="12.5" lengthAdjust="spacingAndGlyphs">48</text><rect x="448.0" y="605.4" width="16" height="10" fill="#fff"/><text x="456.0" y="614.1" text-anchor="middle" textLength="12.5" lengthAdjust="spacingAndGlyphs">50</text><rect x="523.9" y="511.4" width="16" height="10" fill="#fff"/><text x="531.9" y="520.1" text-anchor="middle" textLength="12.5" lengthAdjust="spacingAndGlyphs">46</text><rect x="715.2" y="518.6" width="16" height="10" fill="#fff"/><text x="723.2" y="527.3" text-anchor="middle" textLength="12.5" lengthAdjust="spacingAndGlyphs">44</text><rect x="722.3" y="569.0" width="16" height="10" fill="#fff"/><text x="730.3" y="577.7" text-anchor="middle" textLength="12.5" lengthAdjust="spacingAndGlyphs">44</text><rect x="769.0" y="589.6" width="16" height="10" fill="#fff"/><text x="777.0" y="598.3" text-anchor="middle" textLength="12.5" lengthAdjust="spacingAndGlyphs">44</text></g>
</svg>
<text x="68.8" y="675.7" font-size="13.5" font-weight="bold" textLength="132" lengthAdjust="spacingAndGlyphs">SEMAD/CIMEHGO</text>
<rect x="61.5" y="75.5" width="714.0" height="615.8" fill="none" stroke="#000" stroke-width="2.6"/>
<g font-size="10.3" fill="#808080"><text x="46.8" y="134.6" text-anchor="end" textLength="18.84" lengthAdjust="spacingAndGlyphs">6°N</text><text x="46.8" y="213.1" text-anchor="end" textLength="11.36" lengthAdjust="spacingAndGlyphs">0°</text><text x="46.8" y="291.6" text-anchor="end" textLength="17.71" lengthAdjust="spacingAndGlyphs">6°S</text><text x="46.8" y="370.2" text-anchor="end" textLength="24.07" lengthAdjust="spacingAndGlyphs">12°S</text><text x="46.8" y="448.7" text-anchor="end" textLength="24.07" lengthAdjust="spacingAndGlyphs">18°S</text><text x="46.8" y="527.3" text-anchor="end" textLength="24.07" lengthAdjust="spacingAndGlyphs">24°S</text><text x="46.8" y="605.8" text-anchor="end" textLength="24.07" lengthAdjust="spacingAndGlyphs">30°S</text><text x="46.8" y="684.3" text-anchor="end" textLength="24.07" lengthAdjust="spacingAndGlyphs">36°S</text><text x="138.7" y="713" text-anchor="middle" textLength="27.6" lengthAdjust="spacingAndGlyphs">80°W</text><text x="269.4" y="713" text-anchor="middle" textLength="27.6" lengthAdjust="spacingAndGlyphs">70°W</text><text x="400.1" y="713" text-anchor="middle" textLength="27.6" lengthAdjust="spacingAndGlyphs">60°W</text><text x="530.8" y="713" text-anchor="middle" textLength="27.6" lengthAdjust="spacingAndGlyphs">50°W</text><text x="661.5" y="713" text-anchor="middle" textLength="27.6" lengthAdjust="spacingAndGlyphs">40°W</text></g>
<rect x="822" y="588.3" width="30" height="102.62" fill="#96d4d4"/><rect x="822" y="485.7" width="30" height="102.62" fill="#aedea0"/><rect x="822" y="383.0" width="30" height="102.62" fill="#f5d364"/><rect x="822" y="280.4" width="30" height="102.62" fill="#efab6e"/><rect x="822" y="177.8" width="30" height="102.62" fill="#ef9178"/><rect x="822" y="75.2" width="30" height="102.62" fill="#ce89ae"/>
<rect x="822" y="75.2" width="30" height="615.7" fill="none" stroke="#000" stroke-width="2.2"/>
<g stroke="#000" stroke-width="2"><line x1="852" y1="690.9" x2="862" y2="690.9"/><line x1="852" y1="588.3" x2="862" y2="588.3"/><line x1="852" y1="485.7" x2="862" y2="485.7"/><line x1="852" y1="383.0" x2="862" y2="383.0"/><line x1="852" y1="280.4" x2="862" y2="280.4"/><line x1="852" y1="177.8" x2="862" y2="177.8"/><line x1="852" y1="75.2" x2="862" y2="75.2"/></g>
<g font-size="13"><text x="872.3" y="695.5" textLength="16.2" lengthAdjust="spacingAndGlyphs">20</text><text x="872.3" y="592.9" textLength="16.2" lengthAdjust="spacingAndGlyphs">25</text><text x="872.3" y="490.3" textLength="16.2" lengthAdjust="spacingAndGlyphs">30</text><text x="872.3" y="387.6" textLength="16.2" lengthAdjust="spacingAndGlyphs">35</text><text x="872.3" y="285.0" textLength="16.2" lengthAdjust="spacingAndGlyphs">40</text><text x="872.3" y="182.4" textLength="16.2" lengthAdjust="spacingAndGlyphs">45</text><text x="872.3" y="79.8" textLength="16.2" lengthAdjust="spacingAndGlyphs">50</text></g>
<g font-size="10.5"><text x="425.5" y="730.9" text-anchor="middle" textLength="204.5" lengthAdjust="spacingAndGlyphs" font-weight="bold">Potencial para Tempo Severo - K</text><text x="151" y="747" text-anchor="middle" textLength="119.5" lengthAdjust="spacingAndGlyphs" font-weight="bold">Pancadas (21 a 25)</text><text x="297.8" y="747" text-anchor="middle" textLength="119.5" lengthAdjust="spacingAndGlyphs" font-weight="bold">Pancadas (26 a 30)</text><text x="447.5" y="747" text-anchor="middle" textLength="124.5" lengthAdjust="spacingAndGlyphs" font-weight="bold">Trovoadas (31 a 35)</text><text x="592.6" y="747" text-anchor="middle" textLength="124.5" lengthAdjust="spacingAndGlyphs" font-weight="bold">Trovoadas (36 a 40)</text><text x="742.2" y="747" text-anchor="middle" textLength="104.5" lengthAdjust="spacingAndGlyphs" font-weight="bold">Temporais (&gt;40)</text><text x="154.8" y="762.9" text-anchor="middle" textLength="42.5" lengthAdjust="spacingAndGlyphs">20-40%</text><text x="295.7" y="762.9" text-anchor="middle" textLength="42.5" lengthAdjust="spacingAndGlyphs">40-60%</text><text x="443.4" y="762.9" text-anchor="middle" textLength="42.5" lengthAdjust="spacingAndGlyphs">60-80%</text><text x="591.5" y="762.9" text-anchor="middle" textLength="42.5" lengthAdjust="spacingAndGlyphs">80-90%</text><text x="727.7" y="762.9" text-anchor="middle" textLength="40.5" lengthAdjust="spacingAndGlyphs">~100%</text><text x="425.8" y="778.8" text-anchor="middle" textLength="204.5" lengthAdjust="spacingAndGlyphs" font-weight="bold">Densidade das tempestades - TT</text><text x="132.3" y="794.9" text-anchor="middle" textLength="51.5" lengthAdjust="spacingAndGlyphs" font-weight="bold">Isoladas</text><text x="247.6" y="794.9" text-anchor="middle" textLength="55.5" lengthAdjust="spacingAndGlyphs" font-weight="bold">Esparsas</text><text x="372.5" y="794.9" text-anchor="middle" textLength="69.5" lengthAdjust="spacingAndGlyphs" font-weight="bold">Numerosas</text><text x="515.5" y="794.9" text-anchor="middle" textLength="91.2" lengthAdjust="spacingAndGlyphs" font-weight="bold">Várias/Granizo</text><text x="702.8" y="794.9" text-anchor="middle" textLength="174.8" lengthAdjust="spacingAndGlyphs" font-weight="bold">Numerosas/Granizo/tornado</text><text x="132.1" y="810.8" text-anchor="middle" textLength="32.5" lengthAdjust="spacingAndGlyphs">44-45</text><text x="251.7" y="810.8" text-anchor="middle" textLength="32.5" lengthAdjust="spacingAndGlyphs">46-47</text><text x="375.2" y="810.8" text-anchor="middle" textLength="32.5" lengthAdjust="spacingAndGlyphs">48-49</text><text x="516.2" y="810.8" text-anchor="middle" textLength="32.5" lengthAdjust="spacingAndGlyphs">50-51</text><text x="708.5" y="810.8" text-anchor="middle" textLength="23.0" lengthAdjust="spacingAndGlyphs">≥52</text><text x="364.2" y="826.7" text-anchor="middle" textLength="159.8" lengthAdjust="spacingAndGlyphs">K&gt;25 e TT&gt;45=Tempestade</text><text x="548.8" y="826.7" text-anchor="middle" textLength="167.7" lengthAdjust="spacingAndGlyphs">K e TT Altos=Chuva volumosa</text></g>
</svg></body></html>
